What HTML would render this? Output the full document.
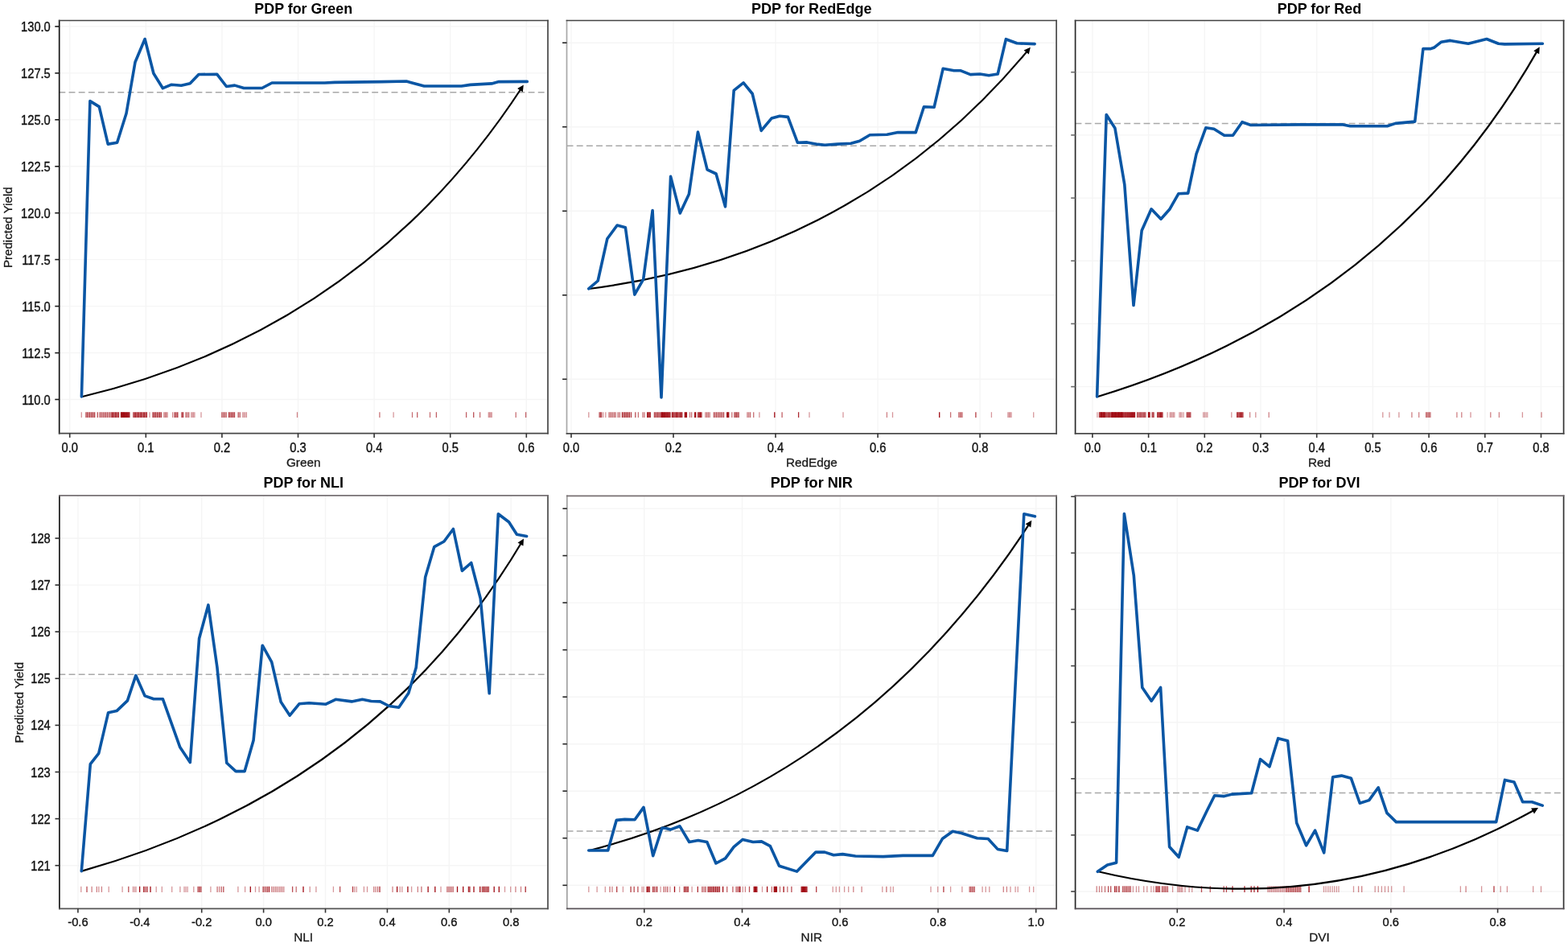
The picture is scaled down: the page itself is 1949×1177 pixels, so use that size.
<!DOCTYPE html>
<html><head><meta charset="utf-8"><title>PDP plots</title><style>
html,body{margin:0;padding:0;background:#fff;}
svg{display:block;}
.grid{stroke:#f5f5f5;stroke-width:1.4;}
.dash{stroke:#a8a8a8;stroke-width:1.5;stroke-dasharray:7.9 4.25;}
.frame{fill:none;stroke:#333;stroke-width:1.7;}
.tick{stroke:#333;stroke-width:1.6;}
.pdp{fill:none;stroke:#0a56a4;stroke-width:3.6;stroke-linejoin:round;stroke-linecap:round;}
.tl{font-family:"Liberation Sans", Arial, Helvetica, sans-serif;font-size:14.7px;fill:#111;stroke:#111;stroke-width:0.35px;}
.title{font-family:"Liberation Sans", Arial, Helvetica, sans-serif;font-size:17.7px;font-weight:bold;fill:#000;}
.xl{font-family:"Liberation Sans", Arial, Helvetica, sans-serif;font-size:15.3px;fill:#1a1a1a;stroke:#1a1a1a;stroke-width:0.3px;}
.yl{font-family:"Liberation Sans", Arial, Helvetica, sans-serif;font-size:15.1px;fill:#1a1a1a;stroke:#1a1a1a;stroke-width:0.3px;}
</style></head>
<body><svg width="1949" height="1177" viewBox="0 0 1949 1177"><rect width="1949" height="1177" fill="#fff"/><g><g><line x1="86.7" y1="25.4" x2="86.7" y2="538.3" class="grid"/><line x1="181.3" y1="25.4" x2="181.3" y2="538.3" class="grid"/><line x1="275.9" y1="25.4" x2="275.9" y2="538.3" class="grid"/><line x1="370.5" y1="25.4" x2="370.5" y2="538.3" class="grid"/><line x1="465.1" y1="25.4" x2="465.1" y2="538.3" class="grid"/><line x1="559.7" y1="25.4" x2="559.7" y2="538.3" class="grid"/><line x1="654.3" y1="25.4" x2="654.3" y2="538.3" class="grid"/><line x1="73.4" y1="496.5" x2="681.0" y2="496.5" class="grid"/><line x1="73.4" y1="438.6" x2="681.0" y2="438.6" class="grid"/><line x1="73.4" y1="380.6" x2="681.0" y2="380.6" class="grid"/><line x1="73.4" y1="322.6" x2="681.0" y2="322.6" class="grid"/><line x1="73.4" y1="264.7" x2="681.0" y2="264.7" class="grid"/><line x1="73.4" y1="206.8" x2="681.0" y2="206.8" class="grid"/><line x1="73.4" y1="148.8" x2="681.0" y2="148.8" class="grid"/><line x1="73.4" y1="90.9" x2="681.0" y2="90.9" class="grid"/><line x1="73.4" y1="32.9" x2="681.0" y2="32.9" class="grid"/><line x1="73.4" y1="114.8" x2="681.0" y2="114.8" class="dash"/><line x1="101.3" y1="512.2" x2="101.3" y2="519.0" stroke="#a00a12" stroke-opacity="0.43" stroke-width="1.3"/><line x1="106.9" y1="512.2" x2="106.9" y2="519.0" stroke="#a00a12" stroke-opacity="0.72" stroke-width="1.3"/><line x1="108.4" y1="512.2" x2="108.4" y2="519.0" stroke="#a00a12" stroke-opacity="0.72" stroke-width="1.3"/><line x1="110.0" y1="512.2" x2="110.0" y2="519.0" stroke="#a00a12" stroke-opacity="0.72" stroke-width="1.3"/><line x1="111.5" y1="512.2" x2="111.5" y2="519.0" stroke="#a00a12" stroke-opacity="0.72" stroke-width="1.3"/><line x1="113.1" y1="512.2" x2="113.1" y2="519.0" stroke="#a00a12" stroke-opacity="0.72" stroke-width="1.3"/><line x1="114.6" y1="512.2" x2="114.6" y2="519.0" stroke="#a00a12" stroke-opacity="0.72" stroke-width="1.3"/><line x1="116.2" y1="512.2" x2="116.2" y2="519.0" stroke="#a00a12" stroke-opacity="0.72" stroke-width="1.3"/><line x1="117.7" y1="512.2" x2="117.7" y2="519.0" stroke="#a00a12" stroke-opacity="0.72" stroke-width="1.3"/><line x1="121.3" y1="512.2" x2="121.3" y2="519.0" stroke="#a00a12" stroke-opacity="0.72" stroke-width="1.3"/><line x1="123.9" y1="512.2" x2="123.9" y2="519.0" stroke="#a00a12" stroke-opacity="0.65" stroke-width="1.3"/><line x1="125.5" y1="512.2" x2="125.5" y2="519.0" stroke="#a00a12" stroke-opacity="0.65" stroke-width="1.3"/><line x1="127.1" y1="512.2" x2="127.1" y2="519.0" stroke="#a00a12" stroke-opacity="0.65" stroke-width="1.3"/><line x1="128.7" y1="512.2" x2="128.7" y2="519.0" stroke="#a00a12" stroke-opacity="0.65" stroke-width="1.3"/><line x1="130.3" y1="512.2" x2="130.3" y2="519.0" stroke="#a00a12" stroke-opacity="0.65" stroke-width="1.3"/><line x1="131.8" y1="512.2" x2="131.8" y2="519.0" stroke="#a00a12" stroke-opacity="0.65" stroke-width="1.3"/><line x1="133.4" y1="512.2" x2="133.4" y2="519.0" stroke="#a00a12" stroke-opacity="0.65" stroke-width="1.3"/><line x1="135.0" y1="512.2" x2="135.0" y2="519.0" stroke="#a00a12" stroke-opacity="0.65" stroke-width="1.3"/><line x1="136.6" y1="512.2" x2="136.6" y2="519.0" stroke="#a00a12" stroke-opacity="0.65" stroke-width="1.3"/><line x1="138.2" y1="512.2" x2="138.2" y2="519.0" stroke="#a00a12" stroke-opacity="0.65" stroke-width="1.3"/><line x1="139.3" y1="512.2" x2="139.3" y2="519.0" stroke="#a00a12" stroke-opacity="0.87" stroke-width="1.3"/><line x1="140.7" y1="512.2" x2="140.7" y2="519.0" stroke="#a00a12" stroke-opacity="0.87" stroke-width="1.3"/><line x1="142.0" y1="512.2" x2="142.0" y2="519.0" stroke="#a00a12" stroke-opacity="0.87" stroke-width="1.3"/><line x1="143.4" y1="512.2" x2="143.4" y2="519.0" stroke="#a00a12" stroke-opacity="0.87" stroke-width="1.3"/><line x1="144.8" y1="512.2" x2="144.8" y2="519.0" stroke="#a00a12" stroke-opacity="0.87" stroke-width="1.3"/><line x1="146.1" y1="512.2" x2="146.1" y2="519.0" stroke="#a00a12" stroke-opacity="0.87" stroke-width="1.3"/><line x1="147.5" y1="512.2" x2="147.5" y2="519.0" stroke="#a00a12" stroke-opacity="0.87" stroke-width="1.3"/><line x1="150.5" y1="512.2" x2="150.5" y2="519.0" stroke="#a00a12" stroke-opacity="1.00" stroke-width="1.3"/><line x1="151.5" y1="512.2" x2="151.5" y2="519.0" stroke="#a00a12" stroke-opacity="1.00" stroke-width="1.3"/><line x1="152.6" y1="512.2" x2="152.6" y2="519.0" stroke="#a00a12" stroke-opacity="1.00" stroke-width="1.3"/><line x1="153.6" y1="512.2" x2="153.6" y2="519.0" stroke="#a00a12" stroke-opacity="1.00" stroke-width="1.3"/><line x1="154.6" y1="512.2" x2="154.6" y2="519.0" stroke="#a00a12" stroke-opacity="1.00" stroke-width="1.3"/><line x1="155.7" y1="512.2" x2="155.7" y2="519.0" stroke="#a00a12" stroke-opacity="1.00" stroke-width="1.3"/><line x1="156.7" y1="512.2" x2="156.7" y2="519.0" stroke="#a00a12" stroke-opacity="1.00" stroke-width="1.3"/><line x1="157.7" y1="512.2" x2="157.7" y2="519.0" stroke="#a00a12" stroke-opacity="1.00" stroke-width="1.3"/><line x1="158.7" y1="512.2" x2="158.7" y2="519.0" stroke="#a00a12" stroke-opacity="1.00" stroke-width="1.3"/><line x1="159.8" y1="512.2" x2="159.8" y2="519.0" stroke="#a00a12" stroke-opacity="1.00" stroke-width="1.3"/><line x1="160.8" y1="512.2" x2="160.8" y2="519.0" stroke="#a00a12" stroke-opacity="1.00" stroke-width="1.3"/><line x1="165.9" y1="512.2" x2="165.9" y2="519.0" stroke="#a00a12" stroke-opacity="0.87" stroke-width="1.3"/><line x1="167.3" y1="512.2" x2="167.3" y2="519.0" stroke="#a00a12" stroke-opacity="0.87" stroke-width="1.3"/><line x1="168.7" y1="512.2" x2="168.7" y2="519.0" stroke="#a00a12" stroke-opacity="0.87" stroke-width="1.3"/><line x1="170.0" y1="512.2" x2="170.0" y2="519.0" stroke="#a00a12" stroke-opacity="0.87" stroke-width="1.3"/><line x1="171.4" y1="512.2" x2="171.4" y2="519.0" stroke="#a00a12" stroke-opacity="0.87" stroke-width="1.3"/><line x1="172.8" y1="512.2" x2="172.8" y2="519.0" stroke="#a00a12" stroke-opacity="0.87" stroke-width="1.3"/><line x1="174.2" y1="512.2" x2="174.2" y2="519.0" stroke="#a00a12" stroke-opacity="0.87" stroke-width="1.3"/><line x1="175.5" y1="512.2" x2="175.5" y2="519.0" stroke="#a00a12" stroke-opacity="0.87" stroke-width="1.3"/><line x1="176.9" y1="512.2" x2="176.9" y2="519.0" stroke="#a00a12" stroke-opacity="0.87" stroke-width="1.3"/><line x1="178.3" y1="512.2" x2="178.3" y2="519.0" stroke="#a00a12" stroke-opacity="0.87" stroke-width="1.3"/><line x1="179.7" y1="512.2" x2="179.7" y2="519.0" stroke="#a00a12" stroke-opacity="0.87" stroke-width="1.3"/><line x1="181.0" y1="512.2" x2="181.0" y2="519.0" stroke="#a00a12" stroke-opacity="0.87" stroke-width="1.3"/><line x1="182.4" y1="512.2" x2="182.4" y2="519.0" stroke="#a00a12" stroke-opacity="0.87" stroke-width="1.3"/><line x1="186.0" y1="512.2" x2="186.0" y2="519.0" stroke="#a00a12" stroke-opacity="0.43" stroke-width="1.3"/><line x1="190.0" y1="512.2" x2="190.0" y2="519.0" stroke="#a00a12" stroke-opacity="0.87" stroke-width="1.3"/><line x1="191.7" y1="512.2" x2="191.7" y2="519.0" stroke="#a00a12" stroke-opacity="0.87" stroke-width="1.3"/><line x1="193.4" y1="512.2" x2="193.4" y2="519.0" stroke="#a00a12" stroke-opacity="0.87" stroke-width="1.3"/><line x1="195.2" y1="512.2" x2="195.2" y2="519.0" stroke="#a00a12" stroke-opacity="0.87" stroke-width="1.3"/><line x1="196.9" y1="512.2" x2="196.9" y2="519.0" stroke="#a00a12" stroke-opacity="0.87" stroke-width="1.3"/><line x1="198.6" y1="512.2" x2="198.6" y2="519.0" stroke="#a00a12" stroke-opacity="0.87" stroke-width="1.3"/><line x1="200.3" y1="512.2" x2="200.3" y2="519.0" stroke="#a00a12" stroke-opacity="0.87" stroke-width="1.3"/><line x1="203.9" y1="512.2" x2="203.9" y2="519.0" stroke="#a00a12" stroke-opacity="0.51" stroke-width="1.3"/><line x1="205.3" y1="512.2" x2="205.3" y2="519.0" stroke="#a00a12" stroke-opacity="0.51" stroke-width="1.3"/><line x1="206.6" y1="512.2" x2="206.6" y2="519.0" stroke="#a00a12" stroke-opacity="0.51" stroke-width="1.3"/><line x1="208.0" y1="512.2" x2="208.0" y2="519.0" stroke="#a00a12" stroke-opacity="0.51" stroke-width="1.3"/><line x1="214.7" y1="512.2" x2="214.7" y2="519.0" stroke="#a00a12" stroke-opacity="0.51" stroke-width="1.3"/><line x1="217.2" y1="512.2" x2="217.2" y2="519.0" stroke="#a00a12" stroke-opacity="0.87" stroke-width="1.3"/><line x1="219.0" y1="512.2" x2="219.0" y2="519.0" stroke="#a00a12" stroke-opacity="0.87" stroke-width="1.3"/><line x1="220.8" y1="512.2" x2="220.8" y2="519.0" stroke="#a00a12" stroke-opacity="0.87" stroke-width="1.3"/><line x1="226.0" y1="512.2" x2="226.0" y2="519.0" stroke="#a00a12" stroke-opacity="0.87" stroke-width="1.3"/><line x1="227.5" y1="512.2" x2="227.5" y2="519.0" stroke="#a00a12" stroke-opacity="0.87" stroke-width="1.3"/><line x1="231.0" y1="512.2" x2="231.0" y2="519.0" stroke="#a00a12" stroke-opacity="0.65" stroke-width="1.3"/><line x1="232.8" y1="512.2" x2="232.8" y2="519.0" stroke="#a00a12" stroke-opacity="0.65" stroke-width="1.3"/><line x1="234.7" y1="512.2" x2="234.7" y2="519.0" stroke="#a00a12" stroke-opacity="0.65" stroke-width="1.3"/><line x1="237.8" y1="512.2" x2="237.8" y2="519.0" stroke="#a00a12" stroke-opacity="0.42" stroke-width="1.3"/><line x1="239.2" y1="512.2" x2="239.2" y2="519.0" stroke="#a00a12" stroke-opacity="0.42" stroke-width="1.3"/><line x1="240.5" y1="512.2" x2="240.5" y2="519.0" stroke="#a00a12" stroke-opacity="0.42" stroke-width="1.3"/><line x1="241.9" y1="512.2" x2="241.9" y2="519.0" stroke="#a00a12" stroke-opacity="0.42" stroke-width="1.3"/><line x1="250.0" y1="512.2" x2="250.0" y2="519.0" stroke="#a00a12" stroke-opacity="0.42" stroke-width="1.3"/><line x1="275.7" y1="512.2" x2="275.7" y2="519.0" stroke="#a00a12" stroke-opacity="0.58" stroke-width="1.3"/><line x1="277.1" y1="512.2" x2="277.1" y2="519.0" stroke="#a00a12" stroke-opacity="0.58" stroke-width="1.3"/><line x1="278.5" y1="512.2" x2="278.5" y2="519.0" stroke="#a00a12" stroke-opacity="0.58" stroke-width="1.3"/><line x1="279.9" y1="512.2" x2="279.9" y2="519.0" stroke="#a00a12" stroke-opacity="0.58" stroke-width="1.3"/><line x1="281.3" y1="512.2" x2="281.3" y2="519.0" stroke="#a00a12" stroke-opacity="0.58" stroke-width="1.3"/><line x1="284.4" y1="512.2" x2="284.4" y2="519.0" stroke="#a00a12" stroke-opacity="0.72" stroke-width="1.3"/><line x1="285.8" y1="512.2" x2="285.8" y2="519.0" stroke="#a00a12" stroke-opacity="0.72" stroke-width="1.3"/><line x1="287.2" y1="512.2" x2="287.2" y2="519.0" stroke="#a00a12" stroke-opacity="0.72" stroke-width="1.3"/><line x1="288.7" y1="512.2" x2="288.7" y2="519.0" stroke="#a00a12" stroke-opacity="0.72" stroke-width="1.3"/><line x1="290.1" y1="512.2" x2="290.1" y2="519.0" stroke="#a00a12" stroke-opacity="0.72" stroke-width="1.3"/><line x1="291.5" y1="512.2" x2="291.5" y2="519.0" stroke="#a00a12" stroke-opacity="0.72" stroke-width="1.3"/><line x1="296.2" y1="512.2" x2="296.2" y2="519.0" stroke="#a00a12" stroke-opacity="0.72" stroke-width="1.3"/><line x1="298.2" y1="512.2" x2="298.2" y2="519.0" stroke="#a00a12" stroke-opacity="0.72" stroke-width="1.3"/><line x1="301.8" y1="512.2" x2="301.8" y2="519.0" stroke="#a00a12" stroke-opacity="0.42" stroke-width="1.3"/><line x1="303.3" y1="512.2" x2="303.3" y2="519.0" stroke="#a00a12" stroke-opacity="0.42" stroke-width="1.3"/><line x1="304.9" y1="512.2" x2="304.9" y2="519.0" stroke="#a00a12" stroke-opacity="0.42" stroke-width="1.3"/><line x1="306.4" y1="512.2" x2="306.4" y2="519.0" stroke="#a00a12" stroke-opacity="0.42" stroke-width="1.3"/><line x1="369.5" y1="512.2" x2="369.5" y2="519.0" stroke="#a00a12" stroke-opacity="0.51" stroke-width="1.3"/><line x1="471.9" y1="512.2" x2="471.9" y2="519.0" stroke="#a00a12" stroke-opacity="0.58" stroke-width="1.3"/><line x1="489.1" y1="512.2" x2="489.1" y2="519.0" stroke="#a00a12" stroke-opacity="0.42" stroke-width="1.3"/><line x1="512.5" y1="512.2" x2="512.5" y2="519.0" stroke="#a00a12" stroke-opacity="0.58" stroke-width="1.3"/><line x1="518.7" y1="512.2" x2="518.7" y2="519.0" stroke="#a00a12" stroke-opacity="0.65" stroke-width="1.3"/><line x1="534.5" y1="512.2" x2="534.5" y2="519.0" stroke="#a00a12" stroke-opacity="0.58" stroke-width="1.3"/><line x1="542.4" y1="512.2" x2="542.4" y2="519.0" stroke="#a00a12" stroke-opacity="0.65" stroke-width="1.3"/><line x1="579.6" y1="512.2" x2="579.6" y2="519.0" stroke="#a00a12" stroke-opacity="0.65" stroke-width="1.3"/><line x1="588.7" y1="512.2" x2="588.7" y2="519.0" stroke="#a00a12" stroke-opacity="0.72" stroke-width="1.3"/><line x1="596.6" y1="512.2" x2="596.6" y2="519.0" stroke="#a00a12" stroke-opacity="0.58" stroke-width="1.3"/><line x1="607.3" y1="512.2" x2="607.3" y2="519.0" stroke="#a00a12" stroke-opacity="0.43" stroke-width="1.3"/><line x1="608.6" y1="512.2" x2="608.6" y2="519.0" stroke="#a00a12" stroke-opacity="0.43" stroke-width="1.3"/><line x1="609.9" y1="512.2" x2="609.9" y2="519.0" stroke="#a00a12" stroke-opacity="0.43" stroke-width="1.3"/><line x1="611.2" y1="512.2" x2="611.2" y2="519.0" stroke="#a00a12" stroke-opacity="0.43" stroke-width="1.3"/><line x1="641.2" y1="512.2" x2="641.2" y2="519.0" stroke="#a00a12" stroke-opacity="0.58" stroke-width="1.3"/><line x1="653.6" y1="512.2" x2="653.6" y2="519.0" stroke="#a00a12" stroke-opacity="0.65" stroke-width="1.3"/><path d="M102.3,493.0 Q453.3,408.7 649.2,108.0" fill="none" stroke="#000" stroke-width="2.2"/><path d="M650.8,105.5 L649.8,114.4 L643.1,110.0 Z" fill="#000"/><polyline points="101.4,493.0 111.9,125.6 123.3,132.6 134.2,179.1 145.6,177.2 157.0,141.0 168.0,77.2 180.1,48.5 190.9,91.2 202.4,109.7 213.2,105.2 225.3,106.2 236.2,103.7 247.0,92.5 269.8,92.3 281.5,107.5 291.8,106.1 303.1,109.5 325.7,109.5 338.0,103.0 403.7,103.0 416.0,102.4 474.2,101.6 505.1,101.0 527.2,107.0 573.6,107.0 584.6,105.4 611.1,103.9 620.0,101.6 655.3,101.4" class="pdp"/><line x1="73.70" y1="24.65" x2="73.70" y2="539.55" stroke="#151515" stroke-width="1.7"/><line x1="681.00" y1="24.65" x2="681.00" y2="539.55" stroke="#464646" stroke-width="1.7"/><line x1="72.85" y1="25.50" x2="681.85" y2="25.50" stroke="#444" stroke-width="1.7"/><line x1="72.85" y1="538.70" x2="681.85" y2="538.70" stroke="#484848" stroke-width="1.7"/><line x1="86.7" y1="538.7" x2="86.7" y2="543.9" class="tick"/><text transform="translate(86.7,561.8) scale(1,1.15)" class="tl" text-anchor="middle">0.0</text><line x1="181.3" y1="538.7" x2="181.3" y2="543.9" class="tick"/><text transform="translate(181.3,561.8) scale(1,1.15)" class="tl" text-anchor="middle">0.1</text><line x1="275.9" y1="538.7" x2="275.9" y2="543.9" class="tick"/><text transform="translate(275.9,561.8) scale(1,1.15)" class="tl" text-anchor="middle">0.2</text><line x1="370.5" y1="538.7" x2="370.5" y2="543.9" class="tick"/><text transform="translate(370.5,561.8) scale(1,1.15)" class="tl" text-anchor="middle">0.3</text><line x1="465.1" y1="538.7" x2="465.1" y2="543.9" class="tick"/><text transform="translate(465.1,561.8) scale(1,1.15)" class="tl" text-anchor="middle">0.4</text><line x1="559.7" y1="538.7" x2="559.7" y2="543.9" class="tick"/><text transform="translate(559.7,561.8) scale(1,1.15)" class="tl" text-anchor="middle">0.5</text><line x1="654.3" y1="538.7" x2="654.3" y2="543.9" class="tick"/><text transform="translate(654.3,561.8) scale(1,1.15)" class="tl" text-anchor="middle">0.6</text><line x1="68.3" y1="496.5" x2="73.7" y2="496.5" class="tick" style="stroke:#1a1a1a"/><text transform="translate(62.8,502.5) scale(1,1.1)" class="tl" text-anchor="end">110.0</text><line x1="68.3" y1="438.6" x2="73.7" y2="438.6" class="tick" style="stroke:#1a1a1a"/><text transform="translate(62.8,444.6) scale(1,1.1)" class="tl" text-anchor="end">112.5</text><line x1="68.3" y1="380.6" x2="73.7" y2="380.6" class="tick" style="stroke:#1a1a1a"/><text transform="translate(62.8,386.6) scale(1,1.1)" class="tl" text-anchor="end">115.0</text><line x1="68.3" y1="322.6" x2="73.7" y2="322.6" class="tick" style="stroke:#1a1a1a"/><text transform="translate(62.8,328.6) scale(1,1.1)" class="tl" text-anchor="end">117.5</text><line x1="68.3" y1="264.7" x2="73.7" y2="264.7" class="tick" style="stroke:#1a1a1a"/><text transform="translate(62.8,270.7) scale(1,1.1)" class="tl" text-anchor="end">120.0</text><line x1="68.3" y1="206.8" x2="73.7" y2="206.8" class="tick" style="stroke:#1a1a1a"/><text transform="translate(62.8,212.8) scale(1,1.1)" class="tl" text-anchor="end">122.5</text><line x1="68.3" y1="148.8" x2="73.7" y2="148.8" class="tick" style="stroke:#1a1a1a"/><text transform="translate(62.8,154.8) scale(1,1.1)" class="tl" text-anchor="end">125.0</text><line x1="68.3" y1="90.9" x2="73.7" y2="90.9" class="tick" style="stroke:#1a1a1a"/><text transform="translate(62.8,96.9) scale(1,1.1)" class="tl" text-anchor="end">127.5</text><line x1="68.3" y1="32.9" x2="73.7" y2="32.9" class="tick" style="stroke:#1a1a1a"/><text transform="translate(62.8,38.9) scale(1,1.1)" class="tl" text-anchor="end">130.0</text><text x="377.2" y="16.6" class="title" text-anchor="middle" textLength="121.7" lengthAdjust="spacingAndGlyphs">PDP for Green</text><text x="377.2" y="580.4" class="xl" text-anchor="middle">Green</text><text transform="translate(15.3,282.7) rotate(-90)" class="yl" text-anchor="middle">Predicted Yield</text></g><g><line x1="710.0" y1="25.4" x2="710.0" y2="538.3" class="grid"/><line x1="837.0" y1="25.4" x2="837.0" y2="538.3" class="grid"/><line x1="964.0" y1="25.4" x2="964.0" y2="538.3" class="grid"/><line x1="1091.1" y1="25.4" x2="1091.1" y2="538.3" class="grid"/><line x1="1218.1" y1="25.4" x2="1218.1" y2="538.3" class="grid"/><line x1="704.6" y1="53.2" x2="1313.0" y2="53.2" class="grid"/><line x1="704.6" y1="157.7" x2="1313.0" y2="157.7" class="grid"/><line x1="704.6" y1="262.3" x2="1313.0" y2="262.3" class="grid"/><line x1="704.6" y1="366.8" x2="1313.0" y2="366.8" class="grid"/><line x1="704.6" y1="471.3" x2="1313.0" y2="471.3" class="grid"/><line x1="704.6" y1="181.3" x2="1313.0" y2="181.3" class="dash"/><line x1="731.8" y1="512.2" x2="731.8" y2="519.0" stroke="#a00a12" stroke-opacity="0.43" stroke-width="1.3"/><line x1="745.1" y1="512.2" x2="745.1" y2="519.0" stroke="#a00a12" stroke-opacity="0.72" stroke-width="1.3"/><line x1="746.4" y1="512.2" x2="746.4" y2="519.0" stroke="#a00a12" stroke-opacity="0.72" stroke-width="1.3"/><line x1="747.7" y1="512.2" x2="747.7" y2="519.0" stroke="#a00a12" stroke-opacity="0.72" stroke-width="1.3"/><line x1="749.8" y1="512.2" x2="749.8" y2="519.0" stroke="#a00a12" stroke-opacity="0.42" stroke-width="1.3"/><line x1="752.8" y1="512.2" x2="752.8" y2="519.0" stroke="#a00a12" stroke-opacity="0.43" stroke-width="1.3"/><line x1="757.0" y1="512.2" x2="757.0" y2="519.0" stroke="#a00a12" stroke-opacity="0.58" stroke-width="1.3"/><line x1="758.6" y1="512.2" x2="758.6" y2="519.0" stroke="#a00a12" stroke-opacity="0.58" stroke-width="1.3"/><line x1="760.3" y1="512.2" x2="760.3" y2="519.0" stroke="#a00a12" stroke-opacity="0.58" stroke-width="1.3"/><line x1="761.9" y1="512.2" x2="761.9" y2="519.0" stroke="#a00a12" stroke-opacity="0.58" stroke-width="1.3"/><line x1="763.6" y1="512.2" x2="763.6" y2="519.0" stroke="#a00a12" stroke-opacity="0.58" stroke-width="1.3"/><line x1="765.2" y1="512.2" x2="765.2" y2="519.0" stroke="#a00a12" stroke-opacity="0.58" stroke-width="1.3"/><line x1="768.2" y1="512.2" x2="768.2" y2="519.0" stroke="#a00a12" stroke-opacity="0.65" stroke-width="1.3"/><line x1="770.3" y1="512.2" x2="770.3" y2="519.0" stroke="#a00a12" stroke-opacity="0.65" stroke-width="1.3"/><line x1="773.4" y1="512.2" x2="773.4" y2="519.0" stroke="#a00a12" stroke-opacity="0.80" stroke-width="1.3"/><line x1="774.9" y1="512.2" x2="774.9" y2="519.0" stroke="#a00a12" stroke-opacity="0.80" stroke-width="1.3"/><line x1="776.5" y1="512.2" x2="776.5" y2="519.0" stroke="#a00a12" stroke-opacity="0.80" stroke-width="1.3"/><line x1="778.0" y1="512.2" x2="778.0" y2="519.0" stroke="#a00a12" stroke-opacity="0.80" stroke-width="1.3"/><line x1="779.5" y1="512.2" x2="779.5" y2="519.0" stroke="#a00a12" stroke-opacity="0.80" stroke-width="1.3"/><line x1="781.1" y1="512.2" x2="781.1" y2="519.0" stroke="#a00a12" stroke-opacity="0.80" stroke-width="1.3"/><line x1="782.6" y1="512.2" x2="782.6" y2="519.0" stroke="#a00a12" stroke-opacity="0.80" stroke-width="1.3"/><line x1="784.6" y1="512.2" x2="784.6" y2="519.0" stroke="#a00a12" stroke-opacity="0.72" stroke-width="1.3"/><line x1="789.8" y1="512.2" x2="789.8" y2="519.0" stroke="#a00a12" stroke-opacity="0.72" stroke-width="1.3"/><line x1="793.4" y1="512.2" x2="793.4" y2="519.0" stroke="#a00a12" stroke-opacity="0.58" stroke-width="1.3"/><line x1="799.0" y1="512.2" x2="799.0" y2="519.0" stroke="#a00a12" stroke-opacity="0.58" stroke-width="1.3"/><line x1="801.0" y1="512.2" x2="801.0" y2="519.0" stroke="#a00a12" stroke-opacity="0.58" stroke-width="1.3"/><line x1="804.7" y1="512.2" x2="804.7" y2="519.0" stroke="#a00a12" stroke-opacity="1.00" stroke-width="1.3"/><line x1="805.9" y1="512.2" x2="805.9" y2="519.0" stroke="#a00a12" stroke-opacity="1.00" stroke-width="1.3"/><line x1="807.0" y1="512.2" x2="807.0" y2="519.0" stroke="#a00a12" stroke-opacity="1.00" stroke-width="1.3"/><line x1="808.2" y1="512.2" x2="808.2" y2="519.0" stroke="#a00a12" stroke-opacity="1.00" stroke-width="1.3"/><line x1="813.4" y1="512.2" x2="813.4" y2="519.0" stroke="#a00a12" stroke-opacity="0.72" stroke-width="1.3"/><line x1="814.8" y1="512.2" x2="814.8" y2="519.0" stroke="#a00a12" stroke-opacity="0.72" stroke-width="1.3"/><line x1="816.1" y1="512.2" x2="816.1" y2="519.0" stroke="#a00a12" stroke-opacity="0.72" stroke-width="1.3"/><line x1="817.5" y1="512.2" x2="817.5" y2="519.0" stroke="#a00a12" stroke-opacity="0.72" stroke-width="1.3"/><line x1="818.9" y1="512.2" x2="818.9" y2="519.0" stroke="#a00a12" stroke-opacity="0.72" stroke-width="1.3"/><line x1="820.2" y1="512.2" x2="820.2" y2="519.0" stroke="#a00a12" stroke-opacity="0.72" stroke-width="1.3"/><line x1="821.6" y1="512.2" x2="821.6" y2="519.0" stroke="#a00a12" stroke-opacity="0.72" stroke-width="1.3"/><line x1="822.6" y1="512.2" x2="822.6" y2="519.0" stroke="#a00a12" stroke-opacity="1.00" stroke-width="1.3"/><line x1="823.6" y1="512.2" x2="823.6" y2="519.0" stroke="#a00a12" stroke-opacity="1.00" stroke-width="1.3"/><line x1="824.7" y1="512.2" x2="824.7" y2="519.0" stroke="#a00a12" stroke-opacity="1.00" stroke-width="1.3"/><line x1="825.7" y1="512.2" x2="825.7" y2="519.0" stroke="#a00a12" stroke-opacity="1.00" stroke-width="1.3"/><line x1="826.7" y1="512.2" x2="826.7" y2="519.0" stroke="#a00a12" stroke-opacity="1.00" stroke-width="1.3"/><line x1="827.8" y1="512.2" x2="827.8" y2="519.0" stroke="#a00a12" stroke-opacity="1.00" stroke-width="1.3"/><line x1="828.8" y1="512.2" x2="828.8" y2="519.0" stroke="#a00a12" stroke-opacity="1.00" stroke-width="1.3"/><line x1="829.8" y1="512.2" x2="829.8" y2="519.0" stroke="#a00a12" stroke-opacity="1.00" stroke-width="1.3"/><line x1="830.8" y1="512.2" x2="830.8" y2="519.0" stroke="#a00a12" stroke-opacity="1.00" stroke-width="1.3"/><line x1="831.9" y1="512.2" x2="831.9" y2="519.0" stroke="#a00a12" stroke-opacity="1.00" stroke-width="1.3"/><line x1="832.9" y1="512.2" x2="832.9" y2="519.0" stroke="#a00a12" stroke-opacity="1.00" stroke-width="1.3"/><line x1="835.4" y1="512.2" x2="835.4" y2="519.0" stroke="#a00a12" stroke-opacity="0.87" stroke-width="1.3"/><line x1="836.6" y1="512.2" x2="836.6" y2="519.0" stroke="#a00a12" stroke-opacity="0.87" stroke-width="1.3"/><line x1="837.9" y1="512.2" x2="837.9" y2="519.0" stroke="#a00a12" stroke-opacity="0.87" stroke-width="1.3"/><line x1="839.1" y1="512.2" x2="839.1" y2="519.0" stroke="#a00a12" stroke-opacity="0.87" stroke-width="1.3"/><line x1="840.4" y1="512.2" x2="840.4" y2="519.0" stroke="#a00a12" stroke-opacity="0.87" stroke-width="1.3"/><line x1="841.6" y1="512.2" x2="841.6" y2="519.0" stroke="#a00a12" stroke-opacity="0.87" stroke-width="1.3"/><line x1="842.8" y1="512.2" x2="842.8" y2="519.0" stroke="#a00a12" stroke-opacity="0.87" stroke-width="1.3"/><line x1="844.1" y1="512.2" x2="844.1" y2="519.0" stroke="#a00a12" stroke-opacity="0.87" stroke-width="1.3"/><line x1="845.3" y1="512.2" x2="845.3" y2="519.0" stroke="#a00a12" stroke-opacity="0.87" stroke-width="1.3"/><line x1="846.6" y1="512.2" x2="846.6" y2="519.0" stroke="#a00a12" stroke-opacity="0.87" stroke-width="1.3"/><line x1="847.8" y1="512.2" x2="847.8" y2="519.0" stroke="#a00a12" stroke-opacity="0.87" stroke-width="1.3"/><line x1="851.3" y1="512.2" x2="851.3" y2="519.0" stroke="#a00a12" stroke-opacity="1.00" stroke-width="1.3"/><line x1="852.3" y1="512.2" x2="852.3" y2="519.0" stroke="#a00a12" stroke-opacity="1.00" stroke-width="1.3"/><line x1="853.4" y1="512.2" x2="853.4" y2="519.0" stroke="#a00a12" stroke-opacity="1.00" stroke-width="1.3"/><line x1="857.5" y1="512.2" x2="857.5" y2="519.0" stroke="#a00a12" stroke-opacity="0.58" stroke-width="1.3"/><line x1="859.6" y1="512.2" x2="859.6" y2="519.0" stroke="#a00a12" stroke-opacity="0.58" stroke-width="1.3"/><line x1="863.7" y1="512.2" x2="863.7" y2="519.0" stroke="#a00a12" stroke-opacity="1.00" stroke-width="1.3"/><line x1="864.7" y1="512.2" x2="864.7" y2="519.0" stroke="#a00a12" stroke-opacity="1.00" stroke-width="1.3"/><line x1="867.8" y1="512.2" x2="867.8" y2="519.0" stroke="#a00a12" stroke-opacity="1.00" stroke-width="1.3"/><line x1="869.2" y1="512.2" x2="869.2" y2="519.0" stroke="#a00a12" stroke-opacity="1.00" stroke-width="1.3"/><line x1="870.5" y1="512.2" x2="870.5" y2="519.0" stroke="#a00a12" stroke-opacity="1.00" stroke-width="1.3"/><line x1="871.9" y1="512.2" x2="871.9" y2="519.0" stroke="#a00a12" stroke-opacity="1.00" stroke-width="1.3"/><line x1="877.0" y1="512.2" x2="877.0" y2="519.0" stroke="#a00a12" stroke-opacity="0.58" stroke-width="1.3"/><line x1="878.7" y1="512.2" x2="878.7" y2="519.0" stroke="#a00a12" stroke-opacity="0.58" stroke-width="1.3"/><line x1="880.4" y1="512.2" x2="880.4" y2="519.0" stroke="#a00a12" stroke-opacity="0.58" stroke-width="1.3"/><line x1="882.1" y1="512.2" x2="882.1" y2="519.0" stroke="#a00a12" stroke-opacity="0.58" stroke-width="1.3"/><line x1="887.3" y1="512.2" x2="887.3" y2="519.0" stroke="#a00a12" stroke-opacity="0.65" stroke-width="1.3"/><line x1="888.8" y1="512.2" x2="888.8" y2="519.0" stroke="#a00a12" stroke-opacity="0.65" stroke-width="1.3"/><line x1="890.4" y1="512.2" x2="890.4" y2="519.0" stroke="#a00a12" stroke-opacity="0.65" stroke-width="1.3"/><line x1="891.9" y1="512.2" x2="891.9" y2="519.0" stroke="#a00a12" stroke-opacity="0.65" stroke-width="1.3"/><line x1="893.5" y1="512.2" x2="893.5" y2="519.0" stroke="#a00a12" stroke-opacity="0.65" stroke-width="1.3"/><line x1="895.0" y1="512.2" x2="895.0" y2="519.0" stroke="#a00a12" stroke-opacity="0.65" stroke-width="1.3"/><line x1="896.5" y1="512.2" x2="896.5" y2="519.0" stroke="#a00a12" stroke-opacity="0.65" stroke-width="1.3"/><line x1="898.1" y1="512.2" x2="898.1" y2="519.0" stroke="#a00a12" stroke-opacity="0.65" stroke-width="1.3"/><line x1="899.6" y1="512.2" x2="899.6" y2="519.0" stroke="#a00a12" stroke-opacity="0.65" stroke-width="1.3"/><line x1="903.7" y1="512.2" x2="903.7" y2="519.0" stroke="#a00a12" stroke-opacity="1.00" stroke-width="1.3"/><line x1="904.7" y1="512.2" x2="904.7" y2="519.0" stroke="#a00a12" stroke-opacity="1.00" stroke-width="1.3"/><line x1="905.7" y1="512.2" x2="905.7" y2="519.0" stroke="#a00a12" stroke-opacity="1.00" stroke-width="1.3"/><line x1="909.8" y1="512.2" x2="909.8" y2="519.0" stroke="#a00a12" stroke-opacity="0.58" stroke-width="1.3"/><line x1="912.9" y1="512.2" x2="912.9" y2="519.0" stroke="#a00a12" stroke-opacity="0.72" stroke-width="1.3"/><line x1="914.2" y1="512.2" x2="914.2" y2="519.0" stroke="#a00a12" stroke-opacity="0.72" stroke-width="1.3"/><line x1="915.5" y1="512.2" x2="915.5" y2="519.0" stroke="#a00a12" stroke-opacity="0.72" stroke-width="1.3"/><line x1="916.9" y1="512.2" x2="916.9" y2="519.0" stroke="#a00a12" stroke-opacity="0.72" stroke-width="1.3"/><line x1="918.2" y1="512.2" x2="918.2" y2="519.0" stroke="#a00a12" stroke-opacity="0.72" stroke-width="1.3"/><line x1="929.0" y1="512.2" x2="929.0" y2="519.0" stroke="#a00a12" stroke-opacity="0.58" stroke-width="1.3"/><line x1="930.8" y1="512.2" x2="930.8" y2="519.0" stroke="#a00a12" stroke-opacity="0.58" stroke-width="1.3"/><line x1="932.6" y1="512.2" x2="932.6" y2="519.0" stroke="#a00a12" stroke-opacity="0.58" stroke-width="1.3"/><line x1="936.7" y1="512.2" x2="936.7" y2="519.0" stroke="#a00a12" stroke-opacity="0.58" stroke-width="1.3"/><line x1="943.9" y1="512.2" x2="943.9" y2="519.0" stroke="#a00a12" stroke-opacity="0.43" stroke-width="1.3"/><line x1="962.8" y1="512.2" x2="962.8" y2="519.0" stroke="#a00a12" stroke-opacity="1.00" stroke-width="1.3"/><line x1="972.1" y1="512.2" x2="972.1" y2="519.0" stroke="#a00a12" stroke-opacity="0.65" stroke-width="1.3"/><line x1="992.6" y1="512.2" x2="992.6" y2="519.0" stroke="#a00a12" stroke-opacity="0.87" stroke-width="1.3"/><line x1="1006.0" y1="512.2" x2="1006.0" y2="519.0" stroke="#a00a12" stroke-opacity="0.42" stroke-width="1.3"/><line x1="1048.0" y1="512.2" x2="1048.0" y2="519.0" stroke="#a00a12" stroke-opacity="0.42" stroke-width="1.3"/><line x1="1102.4" y1="512.2" x2="1102.4" y2="519.0" stroke="#a00a12" stroke-opacity="0.51" stroke-width="1.3"/><line x1="1109.5" y1="512.2" x2="1109.5" y2="519.0" stroke="#a00a12" stroke-opacity="0.43" stroke-width="1.3"/><line x1="1167.7" y1="512.2" x2="1167.7" y2="519.0" stroke="#a00a12" stroke-opacity="1.00" stroke-width="1.3"/><line x1="1181.6" y1="512.2" x2="1181.6" y2="519.0" stroke="#a00a12" stroke-opacity="0.58" stroke-width="1.3"/><line x1="1191.8" y1="512.2" x2="1191.8" y2="519.0" stroke="#a00a12" stroke-opacity="0.58" stroke-width="1.3"/><line x1="1193.2" y1="512.2" x2="1193.2" y2="519.0" stroke="#a00a12" stroke-opacity="0.58" stroke-width="1.3"/><line x1="1194.6" y1="512.2" x2="1194.6" y2="519.0" stroke="#a00a12" stroke-opacity="0.58" stroke-width="1.3"/><line x1="1196.0" y1="512.2" x2="1196.0" y2="519.0" stroke="#a00a12" stroke-opacity="0.58" stroke-width="1.3"/><line x1="1212.9" y1="512.2" x2="1212.9" y2="519.0" stroke="#a00a12" stroke-opacity="0.80" stroke-width="1.3"/><line x1="1232.4" y1="512.2" x2="1232.4" y2="519.0" stroke="#a00a12" stroke-opacity="0.42" stroke-width="1.3"/><line x1="1252.9" y1="512.2" x2="1252.9" y2="519.0" stroke="#a00a12" stroke-opacity="0.43" stroke-width="1.3"/><line x1="1254.3" y1="512.2" x2="1254.3" y2="519.0" stroke="#a00a12" stroke-opacity="0.43" stroke-width="1.3"/><line x1="1255.6" y1="512.2" x2="1255.6" y2="519.0" stroke="#a00a12" stroke-opacity="0.43" stroke-width="1.3"/><line x1="1257.0" y1="512.2" x2="1257.0" y2="519.0" stroke="#a00a12" stroke-opacity="0.43" stroke-width="1.3"/><line x1="1284.7" y1="512.2" x2="1284.7" y2="519.0" stroke="#a00a12" stroke-opacity="0.42" stroke-width="1.3"/><path d="M732.2,359.0 Q1068.3,315.3 1278.9,61.1" fill="none" stroke="#000" stroke-width="2.2"/><path d="M1280.8,58.8 L1278.8,67.5 L1272.6,62.4 Z" fill="#000"/><polyline points="731.7,358.8 743.2,349.0 754.8,296.8 767.1,280.0 777.4,282.7 788.8,366.1 799.7,347.1 811.1,261.5 822.0,493.9 833.6,219.4 845.3,265.0 856.4,241.3 867.5,164.1 879.1,210.9 890.1,216.0 901.5,256.8 912.2,112.3 924.1,102.9 935.2,116.5 946.2,162.4 959.0,147.1 969.2,144.3 979.4,145.4 991.3,177.2 1003.2,176.9 1016.8,179.4 1025.3,180.3 1040.6,179.1 1057.6,178.2 1068.5,175.3 1081.2,167.7 1102.5,167.3 1116.1,164.6 1138.2,164.6 1148.4,132.8 1161.1,133.3 1172.2,85.2 1185.8,87.8 1194.3,87.8 1206.2,92.6 1218.1,92.0 1229.1,93.7 1240.2,92.0 1250.4,48.7 1264.0,53.8 1286.1,54.6" class="pdp"/><line x1="704.50" y1="24.65" x2="704.50" y2="539.65" stroke="#a8a8a8" stroke-width="1.7"/><line x1="1313.10" y1="24.65" x2="1313.10" y2="539.65" stroke="#4a4a4a" stroke-width="1.7"/><line x1="703.65" y1="25.50" x2="1313.95" y2="25.50" stroke="#444" stroke-width="1.7"/><line x1="703.65" y1="538.80" x2="1313.95" y2="538.80" stroke="#4a4a4a" stroke-width="1.7"/><line x1="710.0" y1="538.8" x2="710.0" y2="544.0" class="tick"/><text transform="translate(710.0,561.8) scale(1,1.15)" class="tl" text-anchor="middle">0.0</text><line x1="837.0" y1="538.8" x2="837.0" y2="544.0" class="tick"/><text transform="translate(837.0,561.8) scale(1,1.15)" class="tl" text-anchor="middle">0.2</text><line x1="964.0" y1="538.8" x2="964.0" y2="544.0" class="tick"/><text transform="translate(964.0,561.8) scale(1,1.15)" class="tl" text-anchor="middle">0.4</text><line x1="1091.1" y1="538.8" x2="1091.1" y2="544.0" class="tick"/><text transform="translate(1091.1,561.8) scale(1,1.15)" class="tl" text-anchor="middle">0.6</text><line x1="1218.1" y1="538.8" x2="1218.1" y2="544.0" class="tick"/><text transform="translate(1218.1,561.8) scale(1,1.15)" class="tl" text-anchor="middle">0.8</text><line x1="699.1" y1="53.2" x2="704.5" y2="53.2" class="tick" style="stroke:#222"/><line x1="699.1" y1="157.7" x2="704.5" y2="157.7" class="tick" style="stroke:#222"/><line x1="699.1" y1="262.3" x2="704.5" y2="262.3" class="tick" style="stroke:#222"/><line x1="699.1" y1="366.8" x2="704.5" y2="366.8" class="tick" style="stroke:#222"/><line x1="699.1" y1="471.3" x2="704.5" y2="471.3" class="tick" style="stroke:#222"/><text x="1008.8" y="16.6" class="title" text-anchor="middle" textLength="149.7" lengthAdjust="spacingAndGlyphs">PDP for RedEdge</text><text x="1008.8" y="580.4" class="xl" text-anchor="middle">RedEdge</text></g><g><line x1="1357.9" y1="25.4" x2="1357.9" y2="538.3" class="grid"/><line x1="1427.6" y1="25.4" x2="1427.6" y2="538.3" class="grid"/><line x1="1497.3" y1="25.4" x2="1497.3" y2="538.3" class="grid"/><line x1="1567.0" y1="25.4" x2="1567.0" y2="538.3" class="grid"/><line x1="1636.7" y1="25.4" x2="1636.7" y2="538.3" class="grid"/><line x1="1706.4" y1="25.4" x2="1706.4" y2="538.3" class="grid"/><line x1="1776.1" y1="25.4" x2="1776.1" y2="538.3" class="grid"/><line x1="1845.8" y1="25.4" x2="1845.8" y2="538.3" class="grid"/><line x1="1915.5" y1="25.4" x2="1915.5" y2="538.3" class="grid"/><line x1="1336.5" y1="89.7" x2="1943.4" y2="89.7" class="grid"/><line x1="1336.5" y1="167.9" x2="1943.4" y2="167.9" class="grid"/><line x1="1336.5" y1="246.1" x2="1943.4" y2="246.1" class="grid"/><line x1="1336.5" y1="324.2" x2="1943.4" y2="324.2" class="grid"/><line x1="1336.5" y1="402.4" x2="1943.4" y2="402.4" class="grid"/><line x1="1336.5" y1="480.6" x2="1943.4" y2="480.6" class="grid"/><line x1="1336.5" y1="153.4" x2="1943.4" y2="153.4" class="dash"/><line x1="1363.9" y1="512.2" x2="1363.9" y2="519.0" stroke="#a00a12" stroke-opacity="0.42" stroke-width="1.3"/><line x1="1366.4" y1="512.2" x2="1366.4" y2="519.0" stroke="#a00a12" stroke-opacity="0.72" stroke-width="1.3"/><line x1="1367.2" y1="512.2" x2="1367.2" y2="519.0" stroke="#a00a12" stroke-opacity="0.72" stroke-width="1.3"/><line x1="1368.0" y1="512.2" x2="1368.0" y2="519.0" stroke="#a00a12" stroke-opacity="0.72" stroke-width="1.3"/><line x1="1368.5" y1="512.2" x2="1368.5" y2="519.0" stroke="#a00a12" stroke-opacity="1.00" stroke-width="1.3"/><line x1="1369.3" y1="512.2" x2="1369.3" y2="519.0" stroke="#a00a12" stroke-opacity="1.00" stroke-width="1.3"/><line x1="1370.1" y1="512.2" x2="1370.1" y2="519.0" stroke="#a00a12" stroke-opacity="1.00" stroke-width="1.3"/><line x1="1371.0" y1="512.2" x2="1371.0" y2="519.0" stroke="#a00a12" stroke-opacity="1.00" stroke-width="1.3"/><line x1="1371.8" y1="512.2" x2="1371.8" y2="519.0" stroke="#a00a12" stroke-opacity="1.00" stroke-width="1.3"/><line x1="1372.6" y1="512.2" x2="1372.6" y2="519.0" stroke="#a00a12" stroke-opacity="1.00" stroke-width="1.3"/><line x1="1373.5" y1="512.2" x2="1373.5" y2="519.0" stroke="#a00a12" stroke-opacity="0.87" stroke-width="1.3"/><line x1="1374.8" y1="512.2" x2="1374.8" y2="519.0" stroke="#a00a12" stroke-opacity="0.87" stroke-width="1.3"/><line x1="1376.0" y1="512.2" x2="1376.0" y2="519.0" stroke="#a00a12" stroke-opacity="0.87" stroke-width="1.3"/><line x1="1377.2" y1="512.2" x2="1377.2" y2="519.0" stroke="#a00a12" stroke-opacity="0.87" stroke-width="1.3"/><line x1="1378.5" y1="512.2" x2="1378.5" y2="519.0" stroke="#a00a12" stroke-opacity="0.87" stroke-width="1.3"/><line x1="1379.8" y1="512.2" x2="1379.8" y2="519.0" stroke="#a00a12" stroke-opacity="0.87" stroke-width="1.3"/><line x1="1381.0" y1="512.2" x2="1381.0" y2="519.0" stroke="#a00a12" stroke-opacity="0.87" stroke-width="1.3"/><line x1="1381.8" y1="512.2" x2="1381.8" y2="519.0" stroke="#a00a12" stroke-opacity="1.00" stroke-width="1.3"/><line x1="1382.6" y1="512.2" x2="1382.6" y2="519.0" stroke="#a00a12" stroke-opacity="1.00" stroke-width="1.3"/><line x1="1383.4" y1="512.2" x2="1383.4" y2="519.0" stroke="#a00a12" stroke-opacity="1.00" stroke-width="1.3"/><line x1="1384.2" y1="512.2" x2="1384.2" y2="519.0" stroke="#a00a12" stroke-opacity="1.00" stroke-width="1.3"/><line x1="1385.0" y1="512.2" x2="1385.0" y2="519.0" stroke="#a00a12" stroke-opacity="1.00" stroke-width="1.3"/><line x1="1385.7" y1="512.2" x2="1385.7" y2="519.0" stroke="#a00a12" stroke-opacity="1.00" stroke-width="1.3"/><line x1="1386.5" y1="512.2" x2="1386.5" y2="519.0" stroke="#a00a12" stroke-opacity="1.00" stroke-width="1.3"/><line x1="1387.3" y1="512.2" x2="1387.3" y2="519.0" stroke="#a00a12" stroke-opacity="1.00" stroke-width="1.3"/><line x1="1388.1" y1="512.2" x2="1388.1" y2="519.0" stroke="#a00a12" stroke-opacity="1.00" stroke-width="1.3"/><line x1="1388.9" y1="512.2" x2="1388.9" y2="519.0" stroke="#a00a12" stroke-opacity="1.00" stroke-width="1.3"/><line x1="1389.7" y1="512.2" x2="1389.7" y2="519.0" stroke="#a00a12" stroke-opacity="1.00" stroke-width="1.3"/><line x1="1390.5" y1="512.2" x2="1390.5" y2="519.0" stroke="#a00a12" stroke-opacity="1.00" stroke-width="1.3"/><line x1="1391.3" y1="512.2" x2="1391.3" y2="519.0" stroke="#a00a12" stroke-opacity="1.00" stroke-width="1.3"/><line x1="1392.0" y1="512.2" x2="1392.0" y2="519.0" stroke="#a00a12" stroke-opacity="1.00" stroke-width="1.3"/><line x1="1392.8" y1="512.2" x2="1392.8" y2="519.0" stroke="#a00a12" stroke-opacity="1.00" stroke-width="1.3"/><line x1="1393.6" y1="512.2" x2="1393.6" y2="519.0" stroke="#a00a12" stroke-opacity="1.00" stroke-width="1.3"/><line x1="1394.4" y1="512.2" x2="1394.4" y2="519.0" stroke="#a00a12" stroke-opacity="1.00" stroke-width="1.3"/><line x1="1395.2" y1="512.2" x2="1395.2" y2="519.0" stroke="#a00a12" stroke-opacity="1.00" stroke-width="1.3"/><line x1="1396.0" y1="512.2" x2="1396.0" y2="519.0" stroke="#a00a12" stroke-opacity="0.94" stroke-width="1.3"/><line x1="1397.0" y1="512.2" x2="1397.0" y2="519.0" stroke="#a00a12" stroke-opacity="0.94" stroke-width="1.3"/><line x1="1398.1" y1="512.2" x2="1398.1" y2="519.0" stroke="#a00a12" stroke-opacity="0.94" stroke-width="1.3"/><line x1="1399.1" y1="512.2" x2="1399.1" y2="519.0" stroke="#a00a12" stroke-opacity="0.94" stroke-width="1.3"/><line x1="1400.1" y1="512.2" x2="1400.1" y2="519.0" stroke="#a00a12" stroke-opacity="0.94" stroke-width="1.3"/><line x1="1401.2" y1="512.2" x2="1401.2" y2="519.0" stroke="#a00a12" stroke-opacity="0.94" stroke-width="1.3"/><line x1="1402.2" y1="512.2" x2="1402.2" y2="519.0" stroke="#a00a12" stroke-opacity="0.94" stroke-width="1.3"/><line x1="1403.2" y1="512.2" x2="1403.2" y2="519.0" stroke="#a00a12" stroke-opacity="0.94" stroke-width="1.3"/><line x1="1404.3" y1="512.2" x2="1404.3" y2="519.0" stroke="#a00a12" stroke-opacity="0.94" stroke-width="1.3"/><line x1="1405.3" y1="512.2" x2="1405.3" y2="519.0" stroke="#a00a12" stroke-opacity="0.94" stroke-width="1.3"/><line x1="1406.4" y1="512.2" x2="1406.4" y2="519.0" stroke="#a00a12" stroke-opacity="0.94" stroke-width="1.3"/><line x1="1407.4" y1="512.2" x2="1407.4" y2="519.0" stroke="#a00a12" stroke-opacity="0.94" stroke-width="1.3"/><line x1="1408.4" y1="512.2" x2="1408.4" y2="519.0" stroke="#a00a12" stroke-opacity="0.94" stroke-width="1.3"/><line x1="1409.5" y1="512.2" x2="1409.5" y2="519.0" stroke="#a00a12" stroke-opacity="0.94" stroke-width="1.3"/><line x1="1410.5" y1="512.2" x2="1410.5" y2="519.0" stroke="#a00a12" stroke-opacity="0.94" stroke-width="1.3"/><line x1="1413.6" y1="512.2" x2="1413.6" y2="519.0" stroke="#a00a12" stroke-opacity="0.72" stroke-width="1.3"/><line x1="1414.9" y1="512.2" x2="1414.9" y2="519.0" stroke="#a00a12" stroke-opacity="0.72" stroke-width="1.3"/><line x1="1416.2" y1="512.2" x2="1416.2" y2="519.0" stroke="#a00a12" stroke-opacity="0.72" stroke-width="1.3"/><line x1="1417.5" y1="512.2" x2="1417.5" y2="519.0" stroke="#a00a12" stroke-opacity="0.72" stroke-width="1.3"/><line x1="1418.8" y1="512.2" x2="1418.8" y2="519.0" stroke="#a00a12" stroke-opacity="0.72" stroke-width="1.3"/><line x1="1420.0" y1="512.2" x2="1420.0" y2="519.0" stroke="#a00a12" stroke-opacity="0.72" stroke-width="1.3"/><line x1="1421.3" y1="512.2" x2="1421.3" y2="519.0" stroke="#a00a12" stroke-opacity="0.72" stroke-width="1.3"/><line x1="1422.6" y1="512.2" x2="1422.6" y2="519.0" stroke="#a00a12" stroke-opacity="0.72" stroke-width="1.3"/><line x1="1423.9" y1="512.2" x2="1423.9" y2="519.0" stroke="#a00a12" stroke-opacity="0.72" stroke-width="1.3"/><line x1="1427.5" y1="512.2" x2="1427.5" y2="519.0" stroke="#a00a12" stroke-opacity="1.00" stroke-width="1.3"/><line x1="1428.2" y1="512.2" x2="1428.2" y2="519.0" stroke="#a00a12" stroke-opacity="1.00" stroke-width="1.3"/><line x1="1429.0" y1="512.2" x2="1429.0" y2="519.0" stroke="#a00a12" stroke-opacity="1.00" stroke-width="1.3"/><line x1="1432.1" y1="512.2" x2="1432.1" y2="519.0" stroke="#a00a12" stroke-opacity="0.72" stroke-width="1.3"/><line x1="1433.1" y1="512.2" x2="1433.1" y2="519.0" stroke="#a00a12" stroke-opacity="0.72" stroke-width="1.3"/><line x1="1434.1" y1="512.2" x2="1434.1" y2="519.0" stroke="#a00a12" stroke-opacity="0.72" stroke-width="1.3"/><line x1="1438.8" y1="512.2" x2="1438.8" y2="519.0" stroke="#a00a12" stroke-opacity="0.94" stroke-width="1.3"/><line x1="1440.0" y1="512.2" x2="1440.0" y2="519.0" stroke="#a00a12" stroke-opacity="0.94" stroke-width="1.3"/><line x1="1441.2" y1="512.2" x2="1441.2" y2="519.0" stroke="#a00a12" stroke-opacity="0.94" stroke-width="1.3"/><line x1="1442.5" y1="512.2" x2="1442.5" y2="519.0" stroke="#a00a12" stroke-opacity="0.94" stroke-width="1.3"/><line x1="1443.7" y1="512.2" x2="1443.7" y2="519.0" stroke="#a00a12" stroke-opacity="0.94" stroke-width="1.3"/><line x1="1444.9" y1="512.2" x2="1444.9" y2="519.0" stroke="#a00a12" stroke-opacity="0.94" stroke-width="1.3"/><line x1="1451.1" y1="512.2" x2="1451.1" y2="519.0" stroke="#a00a12" stroke-opacity="0.42" stroke-width="1.3"/><line x1="1454.2" y1="512.2" x2="1454.2" y2="519.0" stroke="#a00a12" stroke-opacity="0.42" stroke-width="1.3"/><line x1="1455.6" y1="512.2" x2="1455.6" y2="519.0" stroke="#a00a12" stroke-opacity="0.42" stroke-width="1.3"/><line x1="1457.0" y1="512.2" x2="1457.0" y2="519.0" stroke="#a00a12" stroke-opacity="0.42" stroke-width="1.3"/><line x1="1458.4" y1="512.2" x2="1458.4" y2="519.0" stroke="#a00a12" stroke-opacity="0.42" stroke-width="1.3"/><line x1="1459.8" y1="512.2" x2="1459.8" y2="519.0" stroke="#a00a12" stroke-opacity="0.42" stroke-width="1.3"/><line x1="1466.0" y1="512.2" x2="1466.0" y2="519.0" stroke="#a00a12" stroke-opacity="0.42" stroke-width="1.3"/><line x1="1467.5" y1="512.2" x2="1467.5" y2="519.0" stroke="#a00a12" stroke-opacity="0.42" stroke-width="1.3"/><line x1="1469.0" y1="512.2" x2="1469.0" y2="519.0" stroke="#a00a12" stroke-opacity="0.42" stroke-width="1.3"/><line x1="1471.1" y1="512.2" x2="1471.1" y2="519.0" stroke="#a00a12" stroke-opacity="0.43" stroke-width="1.3"/><line x1="1475.2" y1="512.2" x2="1475.2" y2="519.0" stroke="#a00a12" stroke-opacity="0.72" stroke-width="1.3"/><line x1="1476.3" y1="512.2" x2="1476.3" y2="519.0" stroke="#a00a12" stroke-opacity="0.72" stroke-width="1.3"/><line x1="1477.5" y1="512.2" x2="1477.5" y2="519.0" stroke="#a00a12" stroke-opacity="0.72" stroke-width="1.3"/><line x1="1478.7" y1="512.2" x2="1478.7" y2="519.0" stroke="#a00a12" stroke-opacity="0.72" stroke-width="1.3"/><line x1="1479.8" y1="512.2" x2="1479.8" y2="519.0" stroke="#a00a12" stroke-opacity="0.72" stroke-width="1.3"/><line x1="1495.7" y1="512.2" x2="1495.7" y2="519.0" stroke="#a00a12" stroke-opacity="0.42" stroke-width="1.3"/><line x1="1497.4" y1="512.2" x2="1497.4" y2="519.0" stroke="#a00a12" stroke-opacity="0.42" stroke-width="1.3"/><line x1="1499.1" y1="512.2" x2="1499.1" y2="519.0" stroke="#a00a12" stroke-opacity="0.42" stroke-width="1.3"/><line x1="1500.8" y1="512.2" x2="1500.8" y2="519.0" stroke="#a00a12" stroke-opacity="0.42" stroke-width="1.3"/><line x1="1530.8" y1="512.2" x2="1530.8" y2="519.0" stroke="#a00a12" stroke-opacity="0.42" stroke-width="1.3"/><line x1="1537.7" y1="512.2" x2="1537.7" y2="519.0" stroke="#a00a12" stroke-opacity="0.87" stroke-width="1.3"/><line x1="1538.9" y1="512.2" x2="1538.9" y2="519.0" stroke="#a00a12" stroke-opacity="0.87" stroke-width="1.3"/><line x1="1540.1" y1="512.2" x2="1540.1" y2="519.0" stroke="#a00a12" stroke-opacity="0.87" stroke-width="1.3"/><line x1="1541.3" y1="512.2" x2="1541.3" y2="519.0" stroke="#a00a12" stroke-opacity="0.87" stroke-width="1.3"/><line x1="1542.5" y1="512.2" x2="1542.5" y2="519.0" stroke="#a00a12" stroke-opacity="0.87" stroke-width="1.3"/><line x1="1543.7" y1="512.2" x2="1543.7" y2="519.0" stroke="#a00a12" stroke-opacity="0.87" stroke-width="1.3"/><line x1="1544.9" y1="512.2" x2="1544.9" y2="519.0" stroke="#a00a12" stroke-opacity="0.87" stroke-width="1.3"/><line x1="1553.6" y1="512.2" x2="1553.6" y2="519.0" stroke="#a00a12" stroke-opacity="0.51" stroke-width="1.3"/><line x1="1560.8" y1="512.2" x2="1560.8" y2="519.0" stroke="#a00a12" stroke-opacity="0.43" stroke-width="1.3"/><line x1="1577.2" y1="512.2" x2="1577.2" y2="519.0" stroke="#a00a12" stroke-opacity="0.51" stroke-width="1.3"/><line x1="1718.8" y1="512.2" x2="1718.8" y2="519.0" stroke="#a00a12" stroke-opacity="0.43" stroke-width="1.3"/><line x1="1727.0" y1="512.2" x2="1727.0" y2="519.0" stroke="#a00a12" stroke-opacity="0.42" stroke-width="1.3"/><line x1="1738.9" y1="512.2" x2="1738.9" y2="519.0" stroke="#a00a12" stroke-opacity="0.43" stroke-width="1.3"/><line x1="1754.9" y1="512.2" x2="1754.9" y2="519.0" stroke="#a00a12" stroke-opacity="0.51" stroke-width="1.3"/><line x1="1763.7" y1="512.2" x2="1763.7" y2="519.0" stroke="#a00a12" stroke-opacity="0.51" stroke-width="1.3"/><line x1="1772.6" y1="512.2" x2="1772.6" y2="519.0" stroke="#a00a12" stroke-opacity="0.58" stroke-width="1.3"/><line x1="1773.9" y1="512.2" x2="1773.9" y2="519.0" stroke="#a00a12" stroke-opacity="0.58" stroke-width="1.3"/><line x1="1775.2" y1="512.2" x2="1775.2" y2="519.0" stroke="#a00a12" stroke-opacity="0.58" stroke-width="1.3"/><line x1="1776.6" y1="512.2" x2="1776.6" y2="519.0" stroke="#a00a12" stroke-opacity="0.58" stroke-width="1.3"/><line x1="1777.9" y1="512.2" x2="1777.9" y2="519.0" stroke="#a00a12" stroke-opacity="0.58" stroke-width="1.3"/><line x1="1810.9" y1="512.2" x2="1810.9" y2="519.0" stroke="#a00a12" stroke-opacity="0.51" stroke-width="1.3"/><line x1="1816.8" y1="512.2" x2="1816.8" y2="519.0" stroke="#a00a12" stroke-opacity="0.51" stroke-width="1.3"/><line x1="1828.0" y1="512.2" x2="1828.0" y2="519.0" stroke="#a00a12" stroke-opacity="0.43" stroke-width="1.3"/><line x1="1852.8" y1="512.2" x2="1852.8" y2="519.0" stroke="#a00a12" stroke-opacity="0.51" stroke-width="1.3"/><line x1="1863.4" y1="512.2" x2="1863.4" y2="519.0" stroke="#a00a12" stroke-opacity="0.51" stroke-width="1.3"/><line x1="1892.4" y1="512.2" x2="1892.4" y2="519.0" stroke="#a00a12" stroke-opacity="0.43" stroke-width="1.3"/><line x1="1916.0" y1="512.2" x2="1916.0" y2="519.0" stroke="#a00a12" stroke-opacity="0.51" stroke-width="1.3"/><path d="M1364.4,493.0 Q1729.6,382.2 1912.2,60.9" fill="none" stroke="#000" stroke-width="2.2"/><path d="M1913.7,58.3 L1913.2,67.2 L1906.3,63.3 Z" fill="#000"/><polyline points="1363.6,493.0 1375.2,142.6 1385.9,159.2 1397.8,229.4 1409.0,379.5 1419.2,286.4 1431.1,259.8 1443.0,272.2 1453.7,260.3 1464.8,240.8 1476.7,240.1 1487.0,191.3 1498.8,158.8 1508.9,160.3 1521.7,168.3 1532.5,168.3 1544.0,151.7 1554.8,155.5 1614.7,154.9 1669.5,154.9 1678.4,156.8 1724.3,156.8 1734.5,153.4 1758.7,151.1 1768.9,60.6 1778.4,60.6 1782.3,59.3 1791.2,52.3 1802.7,50.4 1825.0,54.2 1847.9,48.5 1862.6,54.2 1870.2,54.9 1917.4,54.2" class="pdp"/><line x1="1336.60" y1="24.65" x2="1336.60" y2="539.65" stroke="#2a2a2a" stroke-width="1.7"/><line x1="1943.60" y1="24.65" x2="1943.60" y2="539.65" stroke="#333" stroke-width="1.7"/><line x1="1335.75" y1="25.50" x2="1944.45" y2="25.50" stroke="#414141" stroke-width="1.7"/><line x1="1335.75" y1="538.80" x2="1944.45" y2="538.80" stroke="#4a4a4a" stroke-width="1.7"/><line x1="1357.9" y1="538.8" x2="1357.9" y2="544.0" class="tick"/><text transform="translate(1357.9,561.8) scale(1,1.15)" class="tl" text-anchor="middle">0.0</text><line x1="1427.6" y1="538.8" x2="1427.6" y2="544.0" class="tick"/><text transform="translate(1427.6,561.8) scale(1,1.15)" class="tl" text-anchor="middle">0.1</text><line x1="1497.3" y1="538.8" x2="1497.3" y2="544.0" class="tick"/><text transform="translate(1497.3,561.8) scale(1,1.15)" class="tl" text-anchor="middle">0.2</text><line x1="1567.0" y1="538.8" x2="1567.0" y2="544.0" class="tick"/><text transform="translate(1567.0,561.8) scale(1,1.15)" class="tl" text-anchor="middle">0.3</text><line x1="1636.7" y1="538.8" x2="1636.7" y2="544.0" class="tick"/><text transform="translate(1636.7,561.8) scale(1,1.15)" class="tl" text-anchor="middle">0.4</text><line x1="1706.4" y1="538.8" x2="1706.4" y2="544.0" class="tick"/><text transform="translate(1706.4,561.8) scale(1,1.15)" class="tl" text-anchor="middle">0.5</text><line x1="1776.1" y1="538.8" x2="1776.1" y2="544.0" class="tick"/><text transform="translate(1776.1,561.8) scale(1,1.15)" class="tl" text-anchor="middle">0.6</text><line x1="1845.8" y1="538.8" x2="1845.8" y2="544.0" class="tick"/><text transform="translate(1845.8,561.8) scale(1,1.15)" class="tl" text-anchor="middle">0.7</text><line x1="1915.5" y1="538.8" x2="1915.5" y2="544.0" class="tick"/><text transform="translate(1915.5,561.8) scale(1,1.15)" class="tl" text-anchor="middle">0.8</text><line x1="1331.2" y1="89.7" x2="1336.6" y2="89.7" class="tick" style="stroke:#6a6a6a"/><line x1="1331.2" y1="167.9" x2="1336.6" y2="167.9" class="tick" style="stroke:#6a6a6a"/><line x1="1331.2" y1="246.1" x2="1336.6" y2="246.1" class="tick" style="stroke:#6a6a6a"/><line x1="1331.2" y1="324.2" x2="1336.6" y2="324.2" class="tick" style="stroke:#6a6a6a"/><line x1="1331.2" y1="402.4" x2="1336.6" y2="402.4" class="tick" style="stroke:#6a6a6a"/><line x1="1331.2" y1="480.6" x2="1336.6" y2="480.6" class="tick" style="stroke:#6a6a6a"/><text x="1640.0" y="16.6" class="title" text-anchor="middle" textLength="104.7" lengthAdjust="spacingAndGlyphs">PDP for Red</text><text x="1640.0" y="580.4" class="xl" text-anchor="middle">Red</text></g><g><line x1="96.9" y1="616.0" x2="96.9" y2="1129.0" class="grid"/><line x1="173.8" y1="616.0" x2="173.8" y2="1129.0" class="grid"/><line x1="250.7" y1="616.0" x2="250.7" y2="1129.0" class="grid"/><line x1="327.6" y1="616.0" x2="327.6" y2="1129.0" class="grid"/><line x1="404.5" y1="616.0" x2="404.5" y2="1129.0" class="grid"/><line x1="481.4" y1="616.0" x2="481.4" y2="1129.0" class="grid"/><line x1="558.3" y1="616.0" x2="558.3" y2="1129.0" class="grid"/><line x1="635.2" y1="616.0" x2="635.2" y2="1129.0" class="grid"/><line x1="73.4" y1="1075.7" x2="681.0" y2="1075.7" class="grid"/><line x1="73.4" y1="1017.6" x2="681.0" y2="1017.6" class="grid"/><line x1="73.4" y1="959.5" x2="681.0" y2="959.5" class="grid"/><line x1="73.4" y1="901.4" x2="681.0" y2="901.4" class="grid"/><line x1="73.4" y1="843.3" x2="681.0" y2="843.3" class="grid"/><line x1="73.4" y1="785.2" x2="681.0" y2="785.2" class="grid"/><line x1="73.4" y1="727.1" x2="681.0" y2="727.1" class="grid"/><line x1="73.4" y1="669.0" x2="681.0" y2="669.0" class="grid"/><line x1="73.4" y1="838.2" x2="681.0" y2="838.2" class="dash"/><line x1="100.8" y1="1101.7" x2="100.8" y2="1108.9" stroke="#a00a12" stroke-opacity="0.42" stroke-width="1.3"/><line x1="108.0" y1="1101.7" x2="108.0" y2="1108.9" stroke="#a00a12" stroke-opacity="0.72" stroke-width="1.3"/><line x1="114.1" y1="1101.7" x2="114.1" y2="1108.9" stroke="#a00a12" stroke-opacity="0.51" stroke-width="1.3"/><line x1="120.3" y1="1101.7" x2="120.3" y2="1108.9" stroke="#a00a12" stroke-opacity="0.51" stroke-width="1.3"/><line x1="122.8" y1="1101.7" x2="122.8" y2="1108.9" stroke="#a00a12" stroke-opacity="0.43" stroke-width="1.3"/><line x1="126.4" y1="1101.7" x2="126.4" y2="1108.9" stroke="#a00a12" stroke-opacity="0.51" stroke-width="1.3"/><line x1="135.2" y1="1101.7" x2="135.2" y2="1108.9" stroke="#a00a12" stroke-opacity="0.42" stroke-width="1.3"/><line x1="152.1" y1="1101.7" x2="152.1" y2="1108.9" stroke="#a00a12" stroke-opacity="0.42" stroke-width="1.3"/><line x1="159.8" y1="1101.7" x2="159.8" y2="1108.9" stroke="#a00a12" stroke-opacity="0.72" stroke-width="1.3"/><line x1="165.4" y1="1101.7" x2="165.4" y2="1108.9" stroke="#a00a12" stroke-opacity="0.42" stroke-width="1.3"/><line x1="167.2" y1="1101.7" x2="167.2" y2="1108.9" stroke="#a00a12" stroke-opacity="0.42" stroke-width="1.3"/><line x1="169.0" y1="1101.7" x2="169.0" y2="1108.9" stroke="#a00a12" stroke-opacity="0.43" stroke-width="1.3"/><line x1="173.6" y1="1101.7" x2="173.6" y2="1108.9" stroke="#a00a12" stroke-opacity="1.00" stroke-width="1.3"/><line x1="178.8" y1="1101.7" x2="178.8" y2="1108.9" stroke="#a00a12" stroke-opacity="1.00" stroke-width="1.3"/><line x1="180.8" y1="1101.7" x2="180.8" y2="1108.9" stroke="#a00a12" stroke-opacity="0.72" stroke-width="1.3"/><line x1="182.9" y1="1101.7" x2="182.9" y2="1108.9" stroke="#a00a12" stroke-opacity="0.87" stroke-width="1.3"/><line x1="187.0" y1="1101.7" x2="187.0" y2="1108.9" stroke="#a00a12" stroke-opacity="1.00" stroke-width="1.3"/><line x1="194.2" y1="1101.7" x2="194.2" y2="1108.9" stroke="#a00a12" stroke-opacity="0.42" stroke-width="1.3"/><line x1="201.3" y1="1101.7" x2="201.3" y2="1108.9" stroke="#a00a12" stroke-opacity="0.42" stroke-width="1.3"/><line x1="213.7" y1="1101.7" x2="213.7" y2="1108.9" stroke="#a00a12" stroke-opacity="0.42" stroke-width="1.3"/><line x1="223.9" y1="1101.7" x2="223.9" y2="1108.9" stroke="#a00a12" stroke-opacity="0.43" stroke-width="1.3"/><line x1="229.0" y1="1101.7" x2="229.0" y2="1108.9" stroke="#a00a12" stroke-opacity="0.42" stroke-width="1.3"/><line x1="231.0" y1="1101.7" x2="231.0" y2="1108.9" stroke="#a00a12" stroke-opacity="0.42" stroke-width="1.3"/><line x1="233.1" y1="1101.7" x2="233.1" y2="1108.9" stroke="#a00a12" stroke-opacity="0.42" stroke-width="1.3"/><line x1="240.8" y1="1101.7" x2="240.8" y2="1108.9" stroke="#a00a12" stroke-opacity="0.42" stroke-width="1.3"/><line x1="246.0" y1="1101.7" x2="246.0" y2="1108.9" stroke="#a00a12" stroke-opacity="0.65" stroke-width="1.3"/><line x1="247.3" y1="1101.7" x2="247.3" y2="1108.9" stroke="#a00a12" stroke-opacity="0.65" stroke-width="1.3"/><line x1="248.7" y1="1101.7" x2="248.7" y2="1108.9" stroke="#a00a12" stroke-opacity="0.65" stroke-width="1.3"/><line x1="250.0" y1="1101.7" x2="250.0" y2="1108.9" stroke="#a00a12" stroke-opacity="0.65" stroke-width="1.3"/><line x1="261.9" y1="1101.7" x2="261.9" y2="1108.9" stroke="#a00a12" stroke-opacity="0.42" stroke-width="1.3"/><line x1="270.1" y1="1101.7" x2="270.1" y2="1108.9" stroke="#a00a12" stroke-opacity="0.58" stroke-width="1.3"/><line x1="272.6" y1="1101.7" x2="272.6" y2="1108.9" stroke="#a00a12" stroke-opacity="0.51" stroke-width="1.3"/><line x1="275.2" y1="1101.7" x2="275.2" y2="1108.9" stroke="#a00a12" stroke-opacity="0.65" stroke-width="1.3"/><line x1="277.8" y1="1101.7" x2="277.8" y2="1108.9" stroke="#a00a12" stroke-opacity="0.72" stroke-width="1.3"/><line x1="295.9" y1="1101.7" x2="295.9" y2="1108.9" stroke="#a00a12" stroke-opacity="0.43" stroke-width="1.3"/><line x1="304.6" y1="1101.7" x2="304.6" y2="1108.9" stroke="#a00a12" stroke-opacity="0.43" stroke-width="1.3"/><line x1="311.3" y1="1101.7" x2="311.3" y2="1108.9" stroke="#a00a12" stroke-opacity="1.00" stroke-width="1.3"/><line x1="317.5" y1="1101.7" x2="317.5" y2="1108.9" stroke="#a00a12" stroke-opacity="0.43" stroke-width="1.3"/><line x1="322.1" y1="1101.7" x2="322.1" y2="1108.9" stroke="#a00a12" stroke-opacity="0.43" stroke-width="1.3"/><line x1="327.2" y1="1101.7" x2="327.2" y2="1108.9" stroke="#a00a12" stroke-opacity="0.87" stroke-width="1.3"/><line x1="329.5" y1="1101.7" x2="329.5" y2="1108.9" stroke="#a00a12" stroke-opacity="0.87" stroke-width="1.3"/><line x1="332.0" y1="1101.7" x2="332.0" y2="1108.9" stroke="#a00a12" stroke-opacity="1.00" stroke-width="1.3"/><line x1="334.4" y1="1101.7" x2="334.4" y2="1108.9" stroke="#a00a12" stroke-opacity="1.00" stroke-width="1.3"/><line x1="337.5" y1="1101.7" x2="337.5" y2="1108.9" stroke="#a00a12" stroke-opacity="0.43" stroke-width="1.3"/><line x1="339.2" y1="1101.7" x2="339.2" y2="1108.9" stroke="#a00a12" stroke-opacity="0.43" stroke-width="1.3"/><line x1="340.9" y1="1101.7" x2="340.9" y2="1108.9" stroke="#a00a12" stroke-opacity="0.43" stroke-width="1.3"/><line x1="342.6" y1="1101.7" x2="342.6" y2="1108.9" stroke="#a00a12" stroke-opacity="0.43" stroke-width="1.3"/><line x1="344.3" y1="1101.7" x2="344.3" y2="1108.9" stroke="#a00a12" stroke-opacity="0.43" stroke-width="1.3"/><line x1="346.1" y1="1101.7" x2="346.1" y2="1108.9" stroke="#a00a12" stroke-opacity="0.43" stroke-width="1.3"/><line x1="347.8" y1="1101.7" x2="347.8" y2="1108.9" stroke="#a00a12" stroke-opacity="0.43" stroke-width="1.3"/><line x1="349.5" y1="1101.7" x2="349.5" y2="1108.9" stroke="#a00a12" stroke-opacity="0.43" stroke-width="1.3"/><line x1="351.2" y1="1101.7" x2="351.2" y2="1108.9" stroke="#a00a12" stroke-opacity="0.43" stroke-width="1.3"/><line x1="352.9" y1="1101.7" x2="352.9" y2="1108.9" stroke="#a00a12" stroke-opacity="0.43" stroke-width="1.3"/><line x1="363.6" y1="1101.7" x2="363.6" y2="1108.9" stroke="#a00a12" stroke-opacity="0.72" stroke-width="1.3"/><line x1="368.2" y1="1101.7" x2="368.2" y2="1108.9" stroke="#a00a12" stroke-opacity="0.58" stroke-width="1.3"/><line x1="377.0" y1="1101.7" x2="377.0" y2="1108.9" stroke="#a00a12" stroke-opacity="1.00" stroke-width="1.3"/><line x1="385.2" y1="1101.7" x2="385.2" y2="1108.9" stroke="#a00a12" stroke-opacity="0.43" stroke-width="1.3"/><line x1="392.9" y1="1101.7" x2="392.9" y2="1108.9" stroke="#a00a12" stroke-opacity="0.43" stroke-width="1.3"/><line x1="414.4" y1="1101.7" x2="414.4" y2="1108.9" stroke="#a00a12" stroke-opacity="0.42" stroke-width="1.3"/><line x1="422.6" y1="1101.7" x2="422.6" y2="1108.9" stroke="#a00a12" stroke-opacity="0.72" stroke-width="1.3"/><line x1="438.5" y1="1101.7" x2="438.5" y2="1108.9" stroke="#a00a12" stroke-opacity="0.80" stroke-width="1.3"/><line x1="440.8" y1="1101.7" x2="440.8" y2="1108.9" stroke="#a00a12" stroke-opacity="0.43" stroke-width="1.3"/><line x1="443.2" y1="1101.7" x2="443.2" y2="1108.9" stroke="#a00a12" stroke-opacity="0.42" stroke-width="1.3"/><line x1="452.4" y1="1101.7" x2="452.4" y2="1108.9" stroke="#a00a12" stroke-opacity="0.43" stroke-width="1.3"/><line x1="456.5" y1="1101.7" x2="456.5" y2="1108.9" stroke="#a00a12" stroke-opacity="0.43" stroke-width="1.3"/><line x1="464.7" y1="1101.7" x2="464.7" y2="1108.9" stroke="#a00a12" stroke-opacity="0.51" stroke-width="1.3"/><line x1="467.0" y1="1101.7" x2="467.0" y2="1108.9" stroke="#a00a12" stroke-opacity="0.51" stroke-width="1.3"/><line x1="469.5" y1="1101.7" x2="469.5" y2="1108.9" stroke="#a00a12" stroke-opacity="0.58" stroke-width="1.3"/><line x1="471.9" y1="1101.7" x2="471.9" y2="1108.9" stroke="#a00a12" stroke-opacity="0.58" stroke-width="1.3"/><line x1="472.1" y1="1101.7" x2="472.1" y2="1108.9" stroke="#a00a12" stroke-opacity="0.43" stroke-width="1.3"/><line x1="488.0" y1="1101.7" x2="488.0" y2="1108.9" stroke="#a00a12" stroke-opacity="0.51" stroke-width="1.3"/><line x1="493.6" y1="1101.7" x2="493.6" y2="1108.9" stroke="#a00a12" stroke-opacity="1.00" stroke-width="1.3"/><line x1="497.2" y1="1101.7" x2="497.2" y2="1108.9" stroke="#a00a12" stroke-opacity="0.42" stroke-width="1.3"/><line x1="499.8" y1="1101.7" x2="499.8" y2="1108.9" stroke="#a00a12" stroke-opacity="0.42" stroke-width="1.3"/><line x1="506.9" y1="1101.7" x2="506.9" y2="1108.9" stroke="#a00a12" stroke-opacity="1.00" stroke-width="1.3"/><line x1="511.6" y1="1101.7" x2="511.6" y2="1108.9" stroke="#a00a12" stroke-opacity="0.42" stroke-width="1.3"/><line x1="519.3" y1="1101.7" x2="519.3" y2="1108.9" stroke="#a00a12" stroke-opacity="0.51" stroke-width="1.3"/><line x1="523.9" y1="1101.7" x2="523.9" y2="1108.9" stroke="#a00a12" stroke-opacity="0.58" stroke-width="1.3"/><line x1="532.1" y1="1101.7" x2="532.1" y2="1108.9" stroke="#a00a12" stroke-opacity="1.00" stroke-width="1.3"/><line x1="540.8" y1="1101.7" x2="540.8" y2="1108.9" stroke="#a00a12" stroke-opacity="1.00" stroke-width="1.3"/><line x1="548.0" y1="1101.7" x2="548.0" y2="1108.9" stroke="#a00a12" stroke-opacity="0.42" stroke-width="1.3"/><line x1="555.7" y1="1101.7" x2="555.7" y2="1108.9" stroke="#a00a12" stroke-opacity="0.51" stroke-width="1.3"/><line x1="557.2" y1="1101.7" x2="557.2" y2="1108.9" stroke="#a00a12" stroke-opacity="0.51" stroke-width="1.3"/><line x1="558.8" y1="1101.7" x2="558.8" y2="1108.9" stroke="#a00a12" stroke-opacity="0.51" stroke-width="1.3"/><line x1="560.3" y1="1101.7" x2="560.3" y2="1108.9" stroke="#a00a12" stroke-opacity="0.51" stroke-width="1.3"/><line x1="561.9" y1="1101.7" x2="561.9" y2="1108.9" stroke="#a00a12" stroke-opacity="0.51" stroke-width="1.3"/><line x1="563.4" y1="1101.7" x2="563.4" y2="1108.9" stroke="#a00a12" stroke-opacity="0.51" stroke-width="1.3"/><line x1="568.5" y1="1101.7" x2="568.5" y2="1108.9" stroke="#a00a12" stroke-opacity="1.00" stroke-width="1.3"/><line x1="575.7" y1="1101.7" x2="575.7" y2="1108.9" stroke="#a00a12" stroke-opacity="1.00" stroke-width="1.3"/><line x1="582.4" y1="1101.7" x2="582.4" y2="1108.9" stroke="#a00a12" stroke-opacity="0.87" stroke-width="1.3"/><line x1="583.9" y1="1101.7" x2="583.9" y2="1108.9" stroke="#a00a12" stroke-opacity="0.87" stroke-width="1.3"/><line x1="589.0" y1="1101.7" x2="589.0" y2="1108.9" stroke="#a00a12" stroke-opacity="1.00" stroke-width="1.3"/><line x1="596.7" y1="1101.7" x2="596.7" y2="1108.9" stroke="#a00a12" stroke-opacity="1.00" stroke-width="1.3"/><line x1="599.3" y1="1101.7" x2="599.3" y2="1108.9" stroke="#a00a12" stroke-opacity="0.65" stroke-width="1.3"/><line x1="600.5" y1="1101.7" x2="600.5" y2="1108.9" stroke="#a00a12" stroke-opacity="0.65" stroke-width="1.3"/><line x1="601.6" y1="1101.7" x2="601.6" y2="1108.9" stroke="#a00a12" stroke-opacity="0.65" stroke-width="1.3"/><line x1="602.8" y1="1101.7" x2="602.8" y2="1108.9" stroke="#a00a12" stroke-opacity="0.65" stroke-width="1.3"/><line x1="604.0" y1="1101.7" x2="604.0" y2="1108.9" stroke="#a00a12" stroke-opacity="0.65" stroke-width="1.3"/><line x1="605.2" y1="1101.7" x2="605.2" y2="1108.9" stroke="#a00a12" stroke-opacity="0.65" stroke-width="1.3"/><line x1="606.3" y1="1101.7" x2="606.3" y2="1108.9" stroke="#a00a12" stroke-opacity="0.65" stroke-width="1.3"/><line x1="607.5" y1="1101.7" x2="607.5" y2="1108.9" stroke="#a00a12" stroke-opacity="0.65" stroke-width="1.3"/><line x1="614.2" y1="1101.7" x2="614.2" y2="1108.9" stroke="#a00a12" stroke-opacity="1.00" stroke-width="1.3"/><line x1="620.3" y1="1101.7" x2="620.3" y2="1108.9" stroke="#a00a12" stroke-opacity="1.00" stroke-width="1.3"/><line x1="627.5" y1="1101.7" x2="627.5" y2="1108.9" stroke="#a00a12" stroke-opacity="0.42" stroke-width="1.3"/><line x1="634.7" y1="1101.7" x2="634.7" y2="1108.9" stroke="#a00a12" stroke-opacity="0.42" stroke-width="1.3"/><line x1="640.9" y1="1101.7" x2="640.9" y2="1108.9" stroke="#a00a12" stroke-opacity="0.51" stroke-width="1.3"/><line x1="647.5" y1="1101.7" x2="647.5" y2="1108.9" stroke="#a00a12" stroke-opacity="0.51" stroke-width="1.3"/><line x1="653.2" y1="1101.7" x2="653.2" y2="1108.9" stroke="#a00a12" stroke-opacity="0.87" stroke-width="1.3"/><path d="M101.8,1082.6 Q467.4,979.5 649.5,672.2" fill="none" stroke="#000" stroke-width="2.2"/><path d="M651.0,669.6 L650.4,678.5 L643.5,674.4 Z" fill="#000"/><polyline points="101.3,1082.6 112.3,949.7 122.7,936.3 134.6,885.7 145.0,883.6 158.4,870.9 168.8,839.6 180.1,864.9 191.1,868.8 202.4,868.8 223.8,928.8 236.3,947.6 247.6,793.5 258.9,751.9 269.9,829.2 281.8,948.2 293.1,958.6 304.1,958.6 315.1,919.9 326.2,802.2 337.7,822.9 349.2,872.6 360.2,889.2 371.9,874.8 384.1,873.7 405.1,875.2 417.2,869.3 437.1,871.9 450.4,869.3 461.4,871.5 472.5,871.9 483.5,877.5 495.7,879.2 507.8,861.5 517.2,829.8 528.7,717.2 539.8,679.6 551.9,673.0 563.4,657.5 574.4,709.4 585.7,699.5 597.2,743.7 608.2,861.8 619.3,638.8 632.5,648.7 642.4,664.2 654.6,666.4" class="pdp"/><line x1="73.90" y1="615.05" x2="73.90" y2="1130.15" stroke="#1a1a1a" stroke-width="1.7"/><line x1="681.00" y1="615.05" x2="681.00" y2="1130.15" stroke="#4a4a4a" stroke-width="1.7"/><line x1="73.05" y1="615.90" x2="681.85" y2="615.90" stroke="#767073" stroke-width="1.7"/><line x1="73.05" y1="1129.30" x2="681.85" y2="1129.30" stroke="#555" stroke-width="1.7"/><line x1="96.9" y1="1129.3" x2="96.9" y2="1134.5" class="tick"/><text transform="translate(96.9,1150.5) scale(1,1.03)" class="tl" text-anchor="middle">-0.6</text><line x1="173.8" y1="1129.3" x2="173.8" y2="1134.5" class="tick"/><text transform="translate(173.8,1150.5) scale(1,1.03)" class="tl" text-anchor="middle">-0.4</text><line x1="250.7" y1="1129.3" x2="250.7" y2="1134.5" class="tick"/><text transform="translate(250.7,1150.5) scale(1,1.03)" class="tl" text-anchor="middle">-0.2</text><line x1="327.6" y1="1129.3" x2="327.6" y2="1134.5" class="tick"/><text transform="translate(327.6,1150.5) scale(1,1.03)" class="tl" text-anchor="middle">0.0</text><line x1="404.5" y1="1129.3" x2="404.5" y2="1134.5" class="tick"/><text transform="translate(404.5,1150.5) scale(1,1.03)" class="tl" text-anchor="middle">0.2</text><line x1="481.4" y1="1129.3" x2="481.4" y2="1134.5" class="tick"/><text transform="translate(481.4,1150.5) scale(1,1.03)" class="tl" text-anchor="middle">0.4</text><line x1="558.3" y1="1129.3" x2="558.3" y2="1134.5" class="tick"/><text transform="translate(558.3,1150.5) scale(1,1.03)" class="tl" text-anchor="middle">0.6</text><line x1="635.2" y1="1129.3" x2="635.2" y2="1134.5" class="tick"/><text transform="translate(635.2,1150.5) scale(1,1.03)" class="tl" text-anchor="middle">0.8</text><line x1="68.5" y1="1075.7" x2="73.9" y2="1075.7" class="tick" style="stroke:#2a2a2a"/><text transform="translate(62.8,1081.7) scale(1,1.1)" class="tl" text-anchor="end">121</text><line x1="68.5" y1="1017.6" x2="73.9" y2="1017.6" class="tick" style="stroke:#2a2a2a"/><text transform="translate(62.8,1023.6) scale(1,1.1)" class="tl" text-anchor="end">122</text><line x1="68.5" y1="959.5" x2="73.9" y2="959.5" class="tick" style="stroke:#2a2a2a"/><text transform="translate(62.8,965.5) scale(1,1.1)" class="tl" text-anchor="end">123</text><line x1="68.5" y1="901.4" x2="73.9" y2="901.4" class="tick" style="stroke:#2a2a2a"/><text transform="translate(62.8,907.4) scale(1,1.1)" class="tl" text-anchor="end">124</text><line x1="68.5" y1="843.3" x2="73.9" y2="843.3" class="tick" style="stroke:#2a2a2a"/><text transform="translate(62.8,849.3) scale(1,1.1)" class="tl" text-anchor="end">125</text><line x1="68.5" y1="785.2" x2="73.9" y2="785.2" class="tick" style="stroke:#2a2a2a"/><text transform="translate(62.8,791.2) scale(1,1.1)" class="tl" text-anchor="end">126</text><line x1="68.5" y1="727.1" x2="73.9" y2="727.1" class="tick" style="stroke:#2a2a2a"/><text transform="translate(62.8,733.1) scale(1,1.1)" class="tl" text-anchor="end">127</text><line x1="68.5" y1="669.0" x2="73.9" y2="669.0" class="tick" style="stroke:#2a2a2a"/><text transform="translate(62.8,675.0) scale(1,1.1)" class="tl" text-anchor="end">128</text><text x="377.2" y="606.4" class="title" text-anchor="middle" textLength="99.4" lengthAdjust="spacingAndGlyphs">PDP for NLI</text><text x="377.2" y="1170.3" class="xl" text-anchor="middle">NLI</text><text transform="translate(28.6,873.2) rotate(-90)" class="yl" text-anchor="middle">Predicted Yield</text></g><g><line x1="800.8" y1="616.0" x2="800.8" y2="1129.0" class="grid"/><line x1="922.5" y1="616.0" x2="922.5" y2="1129.0" class="grid"/><line x1="1044.2" y1="616.0" x2="1044.2" y2="1129.0" class="grid"/><line x1="1166.0" y1="616.0" x2="1166.0" y2="1129.0" class="grid"/><line x1="1287.7" y1="616.0" x2="1287.7" y2="1129.0" class="grid"/><line x1="704.6" y1="632.1" x2="1313.0" y2="632.1" class="grid"/><line x1="704.6" y1="690.6" x2="1313.0" y2="690.6" class="grid"/><line x1="704.6" y1="749.1" x2="1313.0" y2="749.1" class="grid"/><line x1="704.6" y1="807.7" x2="1313.0" y2="807.7" class="grid"/><line x1="704.6" y1="866.2" x2="1313.0" y2="866.2" class="grid"/><line x1="704.6" y1="924.7" x2="1313.0" y2="924.7" class="grid"/><line x1="704.6" y1="983.2" x2="1313.0" y2="983.2" class="grid"/><line x1="704.6" y1="1041.7" x2="1313.0" y2="1041.7" class="grid"/><line x1="704.6" y1="1100.3" x2="1313.0" y2="1100.3" class="grid"/><line x1="704.6" y1="1032.9" x2="1313.0" y2="1032.9" class="dash"/><line x1="731.8" y1="1101.7" x2="731.8" y2="1108.9" stroke="#a00a12" stroke-opacity="0.43" stroke-width="1.3"/><line x1="742.1" y1="1101.7" x2="742.1" y2="1108.9" stroke="#a00a12" stroke-opacity="0.43" stroke-width="1.3"/><line x1="752.3" y1="1101.7" x2="752.3" y2="1108.9" stroke="#a00a12" stroke-opacity="0.42" stroke-width="1.3"/><line x1="758.0" y1="1101.7" x2="758.0" y2="1108.9" stroke="#a00a12" stroke-opacity="0.58" stroke-width="1.3"/><line x1="761.0" y1="1101.7" x2="761.0" y2="1108.9" stroke="#a00a12" stroke-opacity="0.51" stroke-width="1.3"/><line x1="766.7" y1="1101.7" x2="766.7" y2="1108.9" stroke="#a00a12" stroke-opacity="0.80" stroke-width="1.3"/><line x1="774.4" y1="1101.7" x2="774.4" y2="1108.9" stroke="#a00a12" stroke-opacity="0.42" stroke-width="1.3"/><line x1="784.1" y1="1101.7" x2="784.1" y2="1108.9" stroke="#a00a12" stroke-opacity="0.80" stroke-width="1.3"/><line x1="788.2" y1="1101.7" x2="788.2" y2="1108.9" stroke="#a00a12" stroke-opacity="0.72" stroke-width="1.3"/><line x1="792.9" y1="1101.7" x2="792.9" y2="1108.9" stroke="#a00a12" stroke-opacity="0.72" stroke-width="1.3"/><line x1="798.0" y1="1101.7" x2="798.0" y2="1108.9" stroke="#a00a12" stroke-opacity="0.42" stroke-width="1.3"/><line x1="800.0" y1="1101.7" x2="800.0" y2="1108.9" stroke="#a00a12" stroke-opacity="0.42" stroke-width="1.3"/><line x1="804.1" y1="1101.7" x2="804.1" y2="1108.9" stroke="#a00a12" stroke-opacity="1.00" stroke-width="1.3"/><line x1="805.6" y1="1101.7" x2="805.6" y2="1108.9" stroke="#a00a12" stroke-opacity="1.00" stroke-width="1.3"/><line x1="807.2" y1="1101.7" x2="807.2" y2="1108.9" stroke="#a00a12" stroke-opacity="1.00" stroke-width="1.3"/><line x1="811.8" y1="1101.7" x2="811.8" y2="1108.9" stroke="#a00a12" stroke-opacity="1.00" stroke-width="1.3"/><line x1="814.0" y1="1101.7" x2="814.0" y2="1108.9" stroke="#a00a12" stroke-opacity="0.87" stroke-width="1.3"/><line x1="816.5" y1="1101.7" x2="816.5" y2="1108.9" stroke="#a00a12" stroke-opacity="1.00" stroke-width="1.3"/><line x1="821.1" y1="1101.7" x2="821.1" y2="1108.9" stroke="#a00a12" stroke-opacity="0.42" stroke-width="1.3"/><line x1="825.2" y1="1101.7" x2="825.2" y2="1108.9" stroke="#a00a12" stroke-opacity="0.65" stroke-width="1.3"/><line x1="827.5" y1="1101.7" x2="827.5" y2="1108.9" stroke="#a00a12" stroke-opacity="0.58" stroke-width="1.3"/><line x1="829.8" y1="1101.7" x2="829.8" y2="1108.9" stroke="#a00a12" stroke-opacity="0.65" stroke-width="1.3"/><line x1="832.9" y1="1101.7" x2="832.9" y2="1108.9" stroke="#a00a12" stroke-opacity="0.42" stroke-width="1.3"/><line x1="838.5" y1="1101.7" x2="838.5" y2="1108.9" stroke="#a00a12" stroke-opacity="1.00" stroke-width="1.3"/><line x1="844.7" y1="1101.7" x2="844.7" y2="1108.9" stroke="#a00a12" stroke-opacity="0.42" stroke-width="1.3"/><line x1="850.3" y1="1101.7" x2="850.3" y2="1108.9" stroke="#a00a12" stroke-opacity="0.72" stroke-width="1.3"/><line x1="851.6" y1="1101.7" x2="851.6" y2="1108.9" stroke="#a00a12" stroke-opacity="0.72" stroke-width="1.3"/><line x1="852.9" y1="1101.7" x2="852.9" y2="1108.9" stroke="#a00a12" stroke-opacity="0.72" stroke-width="1.3"/><line x1="854.2" y1="1101.7" x2="854.2" y2="1108.9" stroke="#a00a12" stroke-opacity="0.72" stroke-width="1.3"/><line x1="855.5" y1="1101.7" x2="855.5" y2="1108.9" stroke="#a00a12" stroke-opacity="0.72" stroke-width="1.3"/><line x1="860.1" y1="1101.7" x2="860.1" y2="1108.9" stroke="#a00a12" stroke-opacity="0.42" stroke-width="1.3"/><line x1="867.3" y1="1101.7" x2="867.3" y2="1108.9" stroke="#a00a12" stroke-opacity="0.87" stroke-width="1.3"/><line x1="872.9" y1="1101.7" x2="872.9" y2="1108.9" stroke="#a00a12" stroke-opacity="0.72" stroke-width="1.3"/><line x1="875.0" y1="1101.7" x2="875.0" y2="1108.9" stroke="#a00a12" stroke-opacity="0.58" stroke-width="1.3"/><line x1="877.0" y1="1101.7" x2="877.0" y2="1108.9" stroke="#a00a12" stroke-opacity="0.72" stroke-width="1.3"/><line x1="880.1" y1="1101.7" x2="880.1" y2="1108.9" stroke="#a00a12" stroke-opacity="0.87" stroke-width="1.3"/><line x1="881.7" y1="1101.7" x2="881.7" y2="1108.9" stroke="#a00a12" stroke-opacity="0.87" stroke-width="1.3"/><line x1="883.3" y1="1101.7" x2="883.3" y2="1108.9" stroke="#a00a12" stroke-opacity="0.87" stroke-width="1.3"/><line x1="884.9" y1="1101.7" x2="884.9" y2="1108.9" stroke="#a00a12" stroke-opacity="0.87" stroke-width="1.3"/><line x1="886.5" y1="1101.7" x2="886.5" y2="1108.9" stroke="#a00a12" stroke-opacity="0.87" stroke-width="1.3"/><line x1="888.0" y1="1101.7" x2="888.0" y2="1108.9" stroke="#a00a12" stroke-opacity="0.87" stroke-width="1.3"/><line x1="889.6" y1="1101.7" x2="889.6" y2="1108.9" stroke="#a00a12" stroke-opacity="0.87" stroke-width="1.3"/><line x1="891.2" y1="1101.7" x2="891.2" y2="1108.9" stroke="#a00a12" stroke-opacity="0.87" stroke-width="1.3"/><line x1="892.8" y1="1101.7" x2="892.8" y2="1108.9" stroke="#a00a12" stroke-opacity="0.87" stroke-width="1.3"/><line x1="894.4" y1="1101.7" x2="894.4" y2="1108.9" stroke="#a00a12" stroke-opacity="0.87" stroke-width="1.3"/><line x1="898.6" y1="1101.7" x2="898.6" y2="1108.9" stroke="#a00a12" stroke-opacity="1.00" stroke-width="1.3"/><line x1="903.7" y1="1101.7" x2="903.7" y2="1108.9" stroke="#a00a12" stroke-opacity="0.65" stroke-width="1.3"/><line x1="910.9" y1="1101.7" x2="910.9" y2="1108.9" stroke="#a00a12" stroke-opacity="0.65" stroke-width="1.3"/><line x1="915.0" y1="1101.7" x2="915.0" y2="1108.9" stroke="#a00a12" stroke-opacity="0.58" stroke-width="1.3"/><line x1="917.5" y1="1101.7" x2="917.5" y2="1108.9" stroke="#a00a12" stroke-opacity="0.58" stroke-width="1.3"/><line x1="920.0" y1="1101.7" x2="920.0" y2="1108.9" stroke="#a00a12" stroke-opacity="0.72" stroke-width="1.3"/><line x1="916.2" y1="1101.7" x2="916.2" y2="1108.9" stroke="#a00a12" stroke-opacity="0.42" stroke-width="1.3"/><line x1="919.2" y1="1101.7" x2="919.2" y2="1108.9" stroke="#a00a12" stroke-opacity="1.00" stroke-width="1.3"/><line x1="923.3" y1="1101.7" x2="923.3" y2="1108.9" stroke="#a00a12" stroke-opacity="0.42" stroke-width="1.3"/><line x1="926.4" y1="1101.7" x2="926.4" y2="1108.9" stroke="#a00a12" stroke-opacity="0.51" stroke-width="1.3"/><line x1="931.5" y1="1101.7" x2="931.5" y2="1108.9" stroke="#a00a12" stroke-opacity="0.72" stroke-width="1.3"/><line x1="937.2" y1="1101.7" x2="937.2" y2="1108.9" stroke="#a00a12" stroke-opacity="1.00" stroke-width="1.3"/><line x1="938.4" y1="1101.7" x2="938.4" y2="1108.9" stroke="#a00a12" stroke-opacity="1.00" stroke-width="1.3"/><line x1="939.6" y1="1101.7" x2="939.6" y2="1108.9" stroke="#a00a12" stroke-opacity="1.00" stroke-width="1.3"/><line x1="940.8" y1="1101.7" x2="940.8" y2="1108.9" stroke="#a00a12" stroke-opacity="1.00" stroke-width="1.3"/><line x1="947.5" y1="1101.7" x2="947.5" y2="1108.9" stroke="#a00a12" stroke-opacity="0.42" stroke-width="1.3"/><line x1="953.6" y1="1101.7" x2="953.6" y2="1108.9" stroke="#a00a12" stroke-opacity="1.00" stroke-width="1.3"/><line x1="959.3" y1="1101.7" x2="959.3" y2="1108.9" stroke="#a00a12" stroke-opacity="0.58" stroke-width="1.3"/><line x1="962.3" y1="1101.7" x2="962.3" y2="1108.9" stroke="#a00a12" stroke-opacity="1.00" stroke-width="1.3"/><line x1="963.3" y1="1101.7" x2="963.3" y2="1108.9" stroke="#a00a12" stroke-opacity="1.00" stroke-width="1.3"/><line x1="964.4" y1="1101.7" x2="964.4" y2="1108.9" stroke="#a00a12" stroke-opacity="1.00" stroke-width="1.3"/><line x1="965.4" y1="1101.7" x2="965.4" y2="1108.9" stroke="#a00a12" stroke-opacity="1.00" stroke-width="1.3"/><line x1="969.5" y1="1101.7" x2="969.5" y2="1108.9" stroke="#a00a12" stroke-opacity="0.58" stroke-width="1.3"/><line x1="974.1" y1="1101.7" x2="974.1" y2="1108.9" stroke="#a00a12" stroke-opacity="1.00" stroke-width="1.3"/><line x1="978.8" y1="1101.7" x2="978.8" y2="1108.9" stroke="#a00a12" stroke-opacity="0.58" stroke-width="1.3"/><line x1="983.9" y1="1101.7" x2="983.9" y2="1108.9" stroke="#a00a12" stroke-opacity="0.72" stroke-width="1.3"/><line x1="996.2" y1="1101.7" x2="996.2" y2="1108.9" stroke="#a00a12" stroke-opacity="1.00" stroke-width="1.3"/><line x1="997.3" y1="1101.7" x2="997.3" y2="1108.9" stroke="#a00a12" stroke-opacity="1.00" stroke-width="1.3"/><line x1="998.4" y1="1101.7" x2="998.4" y2="1108.9" stroke="#a00a12" stroke-opacity="1.00" stroke-width="1.3"/><line x1="999.5" y1="1101.7" x2="999.5" y2="1108.9" stroke="#a00a12" stroke-opacity="1.00" stroke-width="1.3"/><line x1="1000.7" y1="1101.7" x2="1000.7" y2="1108.9" stroke="#a00a12" stroke-opacity="1.00" stroke-width="1.3"/><line x1="1001.8" y1="1101.7" x2="1001.8" y2="1108.9" stroke="#a00a12" stroke-opacity="1.00" stroke-width="1.3"/><line x1="1002.9" y1="1101.7" x2="1002.9" y2="1108.9" stroke="#a00a12" stroke-opacity="1.00" stroke-width="1.3"/><line x1="1014.7" y1="1101.7" x2="1014.7" y2="1108.9" stroke="#a00a12" stroke-opacity="0.80" stroke-width="1.3"/><line x1="1035.2" y1="1101.7" x2="1035.2" y2="1108.9" stroke="#a00a12" stroke-opacity="0.42" stroke-width="1.3"/><line x1="1039.3" y1="1101.7" x2="1039.3" y2="1108.9" stroke="#a00a12" stroke-opacity="0.42" stroke-width="1.3"/><line x1="1043.4" y1="1101.7" x2="1043.4" y2="1108.9" stroke="#a00a12" stroke-opacity="0.43" stroke-width="1.3"/><line x1="1049.6" y1="1101.7" x2="1049.6" y2="1108.9" stroke="#a00a12" stroke-opacity="0.43" stroke-width="1.3"/><line x1="1054.7" y1="1101.7" x2="1054.7" y2="1108.9" stroke="#a00a12" stroke-opacity="0.43" stroke-width="1.3"/><line x1="1060.8" y1="1101.7" x2="1060.8" y2="1108.9" stroke="#a00a12" stroke-opacity="0.51" stroke-width="1.3"/><line x1="1071.1" y1="1101.7" x2="1071.1" y2="1108.9" stroke="#a00a12" stroke-opacity="0.51" stroke-width="1.3"/><line x1="1096.8" y1="1101.7" x2="1096.8" y2="1108.9" stroke="#a00a12" stroke-opacity="0.42" stroke-width="1.3"/><line x1="1101.9" y1="1101.7" x2="1101.9" y2="1108.9" stroke="#a00a12" stroke-opacity="0.58" stroke-width="1.3"/><line x1="1107.0" y1="1101.7" x2="1107.0" y2="1108.9" stroke="#a00a12" stroke-opacity="0.42" stroke-width="1.3"/><line x1="1110.3" y1="1101.7" x2="1110.3" y2="1108.9" stroke="#a00a12" stroke-opacity="0.42" stroke-width="1.3"/><line x1="1157.0" y1="1101.7" x2="1157.0" y2="1108.9" stroke="#a00a12" stroke-opacity="0.42" stroke-width="1.3"/><line x1="1165.7" y1="1101.7" x2="1165.7" y2="1108.9" stroke="#a00a12" stroke-opacity="0.42" stroke-width="1.3"/><line x1="1172.9" y1="1101.7" x2="1172.9" y2="1108.9" stroke="#a00a12" stroke-opacity="0.80" stroke-width="1.3"/><line x1="1181.6" y1="1101.7" x2="1181.6" y2="1108.9" stroke="#a00a12" stroke-opacity="0.42" stroke-width="1.3"/><line x1="1195.9" y1="1101.7" x2="1195.9" y2="1108.9" stroke="#a00a12" stroke-opacity="0.43" stroke-width="1.3"/><line x1="1205.2" y1="1101.7" x2="1205.2" y2="1108.9" stroke="#a00a12" stroke-opacity="0.65" stroke-width="1.3"/><line x1="1206.7" y1="1101.7" x2="1206.7" y2="1108.9" stroke="#a00a12" stroke-opacity="0.65" stroke-width="1.3"/><line x1="1208.2" y1="1101.7" x2="1208.2" y2="1108.9" stroke="#a00a12" stroke-opacity="0.65" stroke-width="1.3"/><line x1="1209.8" y1="1101.7" x2="1209.8" y2="1108.9" stroke="#a00a12" stroke-opacity="0.65" stroke-width="1.3"/><line x1="1211.3" y1="1101.7" x2="1211.3" y2="1108.9" stroke="#a00a12" stroke-opacity="0.65" stroke-width="1.3"/><line x1="1221.1" y1="1101.7" x2="1221.1" y2="1108.9" stroke="#a00a12" stroke-opacity="0.43" stroke-width="1.3"/><line x1="1225.2" y1="1101.7" x2="1225.2" y2="1108.9" stroke="#a00a12" stroke-opacity="0.43" stroke-width="1.3"/><line x1="1229.8" y1="1101.7" x2="1229.8" y2="1108.9" stroke="#a00a12" stroke-opacity="0.43" stroke-width="1.3"/><line x1="1247.3" y1="1101.7" x2="1247.3" y2="1108.9" stroke="#a00a12" stroke-opacity="0.51" stroke-width="1.3"/><line x1="1251.4" y1="1101.7" x2="1251.4" y2="1108.9" stroke="#a00a12" stroke-opacity="0.51" stroke-width="1.3"/><line x1="1256.0" y1="1101.7" x2="1256.0" y2="1108.9" stroke="#a00a12" stroke-opacity="0.43" stroke-width="1.3"/><line x1="1262.1" y1="1101.7" x2="1262.1" y2="1108.9" stroke="#a00a12" stroke-opacity="0.43" stroke-width="1.3"/><line x1="1265.2" y1="1101.7" x2="1265.2" y2="1108.9" stroke="#a00a12" stroke-opacity="0.42" stroke-width="1.3"/><line x1="1279.6" y1="1101.7" x2="1279.6" y2="1108.9" stroke="#a00a12" stroke-opacity="0.42" stroke-width="1.3"/><line x1="1284.7" y1="1101.7" x2="1284.7" y2="1108.9" stroke="#a00a12" stroke-opacity="0.42" stroke-width="1.3"/><path d="M731.8,1057.3 Q1072.8,969.2 1280.7,649.2" fill="none" stroke="#000" stroke-width="2.2"/><path d="M1282.3,646.7 L1281.3,655.6 L1274.6,651.2 Z" fill="#000"/><polyline points="731.7,1057.0 755.7,1057.0 766.2,1019.4 776.6,1018.4 789.0,1018.8 800.0,1003.4 811.7,1063.7 822.8,1029.3 827.1,1029.3 833.3,1031.1 845.0,1026.8 856.7,1046.5 867.8,1044.6 878.8,1046.5 889.9,1073.0 901.6,1066.8 912.1,1052.7 923.2,1043.4 936.1,1046.5 946.6,1045.9 957.4,1051.7 968.5,1076.3 990.6,1083.1 1014.0,1059.1 1025.1,1059.1 1036.2,1062.8 1047.3,1061.6 1063.3,1064.0 1097.8,1064.6 1122.4,1063.4 1159.3,1063.4 1171.6,1042.2 1184.2,1033.3 1195.0,1035.5 1214.6,1041.7 1228.2,1042.5 1240.0,1055.4 1251.7,1057.4 1272.8,638.7 1286.4,641.8" class="pdp"/><line x1="704.80" y1="615.45" x2="704.80" y2="1130.15" stroke="#a0a0a0" stroke-width="1.7"/><line x1="1313.10" y1="615.45" x2="1313.10" y2="1130.15" stroke="#4a4a4a" stroke-width="1.7"/><line x1="703.95" y1="616.30" x2="1313.95" y2="616.30" stroke="#787072" stroke-width="1.7"/><line x1="703.95" y1="1129.30" x2="1313.95" y2="1129.30" stroke="#5a5358" stroke-width="1.7"/><line x1="800.8" y1="1129.3" x2="800.8" y2="1134.5" class="tick"/><text transform="translate(800.8,1150.5) scale(1,1.03)" class="tl" text-anchor="middle">0.2</text><line x1="922.5" y1="1129.3" x2="922.5" y2="1134.5" class="tick"/><text transform="translate(922.5,1150.5) scale(1,1.03)" class="tl" text-anchor="middle">0.4</text><line x1="1044.2" y1="1129.3" x2="1044.2" y2="1134.5" class="tick"/><text transform="translate(1044.2,1150.5) scale(1,1.03)" class="tl" text-anchor="middle">0.6</text><line x1="1166.0" y1="1129.3" x2="1166.0" y2="1134.5" class="tick"/><text transform="translate(1166.0,1150.5) scale(1,1.03)" class="tl" text-anchor="middle">0.8</text><line x1="1287.7" y1="1129.3" x2="1287.7" y2="1134.5" class="tick"/><text transform="translate(1287.7,1150.5) scale(1,1.03)" class="tl" text-anchor="middle">1.0</text><line x1="699.4" y1="632.1" x2="704.8" y2="632.1" class="tick" style="stroke:#252525"/><line x1="699.4" y1="690.6" x2="704.8" y2="690.6" class="tick" style="stroke:#252525"/><line x1="699.4" y1="749.1" x2="704.8" y2="749.1" class="tick" style="stroke:#252525"/><line x1="699.4" y1="807.7" x2="704.8" y2="807.7" class="tick" style="stroke:#252525"/><line x1="699.4" y1="866.2" x2="704.8" y2="866.2" class="tick" style="stroke:#252525"/><line x1="699.4" y1="924.7" x2="704.8" y2="924.7" class="tick" style="stroke:#252525"/><line x1="699.4" y1="983.2" x2="704.8" y2="983.2" class="tick" style="stroke:#252525"/><line x1="699.4" y1="1041.7" x2="704.8" y2="1041.7" class="tick" style="stroke:#252525"/><line x1="699.4" y1="1100.3" x2="704.8" y2="1100.3" class="tick" style="stroke:#252525"/><text x="1008.8" y="606.4" class="title" text-anchor="middle" textLength="102.2" lengthAdjust="spacingAndGlyphs">PDP for NIR</text><text x="1008.8" y="1170.3" class="xl" text-anchor="middle">NIR</text></g><g><line x1="1463.3" y1="616.0" x2="1463.3" y2="1129.0" class="grid"/><line x1="1596.1" y1="616.0" x2="1596.1" y2="1129.0" class="grid"/><line x1="1728.8" y1="616.0" x2="1728.8" y2="1129.0" class="grid"/><line x1="1861.6" y1="616.0" x2="1861.6" y2="1129.0" class="grid"/><line x1="1336.5" y1="617.2" x2="1943.4" y2="617.2" class="grid"/><line x1="1336.5" y1="687.3" x2="1943.4" y2="687.3" class="grid"/><line x1="1336.5" y1="757.4" x2="1943.4" y2="757.4" class="grid"/><line x1="1336.5" y1="827.6" x2="1943.4" y2="827.6" class="grid"/><line x1="1336.5" y1="897.7" x2="1943.4" y2="897.7" class="grid"/><line x1="1336.5" y1="967.8" x2="1943.4" y2="967.8" class="grid"/><line x1="1336.5" y1="1037.9" x2="1943.4" y2="1037.9" class="grid"/><line x1="1336.5" y1="1108.0" x2="1943.4" y2="1108.0" class="grid"/><line x1="1336.5" y1="985.6" x2="1943.4" y2="985.6" class="dash"/><line x1="1363.2" y1="1101.3" x2="1363.2" y2="1109.0" stroke="#a00a12" stroke-opacity="0.51" stroke-width="1.3"/><line x1="1366.5" y1="1101.3" x2="1366.5" y2="1109.0" stroke="#a00a12" stroke-opacity="0.51" stroke-width="1.3"/><line x1="1369.5" y1="1101.3" x2="1369.5" y2="1109.0" stroke="#a00a12" stroke-opacity="0.51" stroke-width="1.3"/><line x1="1373.5" y1="1101.3" x2="1373.5" y2="1109.0" stroke="#a00a12" stroke-opacity="0.58" stroke-width="1.3"/><line x1="1377.6" y1="1101.3" x2="1377.6" y2="1109.0" stroke="#a00a12" stroke-opacity="0.72" stroke-width="1.3"/><line x1="1380.7" y1="1101.3" x2="1380.7" y2="1109.0" stroke="#a00a12" stroke-opacity="0.72" stroke-width="1.3"/><line x1="1385.8" y1="1101.3" x2="1385.8" y2="1109.0" stroke="#a00a12" stroke-opacity="1.00" stroke-width="1.3"/><line x1="1388.0" y1="1101.3" x2="1388.0" y2="1109.0" stroke="#a00a12" stroke-opacity="0.87" stroke-width="1.3"/><line x1="1390.9" y1="1101.3" x2="1390.9" y2="1109.0" stroke="#a00a12" stroke-opacity="1.00" stroke-width="1.3"/><line x1="1395.5" y1="1101.3" x2="1395.5" y2="1109.0" stroke="#a00a12" stroke-opacity="0.65" stroke-width="1.3"/><line x1="1397.1" y1="1101.3" x2="1397.1" y2="1109.0" stroke="#a00a12" stroke-opacity="0.65" stroke-width="1.3"/><line x1="1398.8" y1="1101.3" x2="1398.8" y2="1109.0" stroke="#a00a12" stroke-opacity="0.65" stroke-width="1.3"/><line x1="1400.4" y1="1101.3" x2="1400.4" y2="1109.0" stroke="#a00a12" stroke-opacity="0.65" stroke-width="1.3"/><line x1="1402.0" y1="1101.3" x2="1402.0" y2="1109.0" stroke="#a00a12" stroke-opacity="0.65" stroke-width="1.3"/><line x1="1403.7" y1="1101.3" x2="1403.7" y2="1109.0" stroke="#a00a12" stroke-opacity="0.65" stroke-width="1.3"/><line x1="1405.3" y1="1101.3" x2="1405.3" y2="1109.0" stroke="#a00a12" stroke-opacity="0.65" stroke-width="1.3"/><line x1="1408.4" y1="1101.3" x2="1408.4" y2="1109.0" stroke="#a00a12" stroke-opacity="0.43" stroke-width="1.3"/><line x1="1412.5" y1="1101.3" x2="1412.5" y2="1109.0" stroke="#a00a12" stroke-opacity="0.43" stroke-width="1.3"/><line x1="1415.5" y1="1101.3" x2="1415.5" y2="1109.0" stroke="#a00a12" stroke-opacity="0.43" stroke-width="1.3"/><line x1="1421.7" y1="1101.3" x2="1421.7" y2="1109.0" stroke="#a00a12" stroke-opacity="0.43" stroke-width="1.3"/><line x1="1425.8" y1="1101.3" x2="1425.8" y2="1109.0" stroke="#a00a12" stroke-opacity="0.43" stroke-width="1.3"/><line x1="1430.9" y1="1101.3" x2="1430.9" y2="1109.0" stroke="#a00a12" stroke-opacity="0.42" stroke-width="1.3"/><line x1="1434.0" y1="1101.3" x2="1434.0" y2="1109.0" stroke="#a00a12" stroke-opacity="0.43" stroke-width="1.3"/><line x1="1437.1" y1="1101.3" x2="1437.1" y2="1109.0" stroke="#a00a12" stroke-opacity="1.00" stroke-width="1.3"/><line x1="1439.2" y1="1101.3" x2="1439.2" y2="1109.0" stroke="#a00a12" stroke-opacity="1.00" stroke-width="1.3"/><line x1="1441.2" y1="1101.3" x2="1441.2" y2="1109.0" stroke="#a00a12" stroke-opacity="1.00" stroke-width="1.3"/><line x1="1444.3" y1="1101.3" x2="1444.3" y2="1109.0" stroke="#a00a12" stroke-opacity="0.58" stroke-width="1.3"/><line x1="1445.7" y1="1101.3" x2="1445.7" y2="1109.0" stroke="#a00a12" stroke-opacity="0.58" stroke-width="1.3"/><line x1="1447.2" y1="1101.3" x2="1447.2" y2="1109.0" stroke="#a00a12" stroke-opacity="0.58" stroke-width="1.3"/><line x1="1448.6" y1="1101.3" x2="1448.6" y2="1109.0" stroke="#a00a12" stroke-opacity="0.58" stroke-width="1.3"/><line x1="1450.1" y1="1101.3" x2="1450.1" y2="1109.0" stroke="#a00a12" stroke-opacity="0.58" stroke-width="1.3"/><line x1="1451.5" y1="1101.3" x2="1451.5" y2="1109.0" stroke="#a00a12" stroke-opacity="0.58" stroke-width="1.3"/><line x1="1457.6" y1="1101.3" x2="1457.6" y2="1109.0" stroke="#a00a12" stroke-opacity="0.43" stroke-width="1.3"/><line x1="1463.8" y1="1101.3" x2="1463.8" y2="1109.0" stroke="#a00a12" stroke-opacity="0.42" stroke-width="1.3"/><line x1="1465.3" y1="1101.3" x2="1465.3" y2="1109.0" stroke="#a00a12" stroke-opacity="0.42" stroke-width="1.3"/><line x1="1466.8" y1="1101.3" x2="1466.8" y2="1109.0" stroke="#a00a12" stroke-opacity="0.42" stroke-width="1.3"/><line x1="1468.4" y1="1101.3" x2="1468.4" y2="1109.0" stroke="#a00a12" stroke-opacity="0.42" stroke-width="1.3"/><line x1="1469.9" y1="1101.3" x2="1469.9" y2="1109.0" stroke="#a00a12" stroke-opacity="0.42" stroke-width="1.3"/><line x1="1473.0" y1="1101.3" x2="1473.0" y2="1109.0" stroke="#a00a12" stroke-opacity="0.43" stroke-width="1.3"/><line x1="1478.1" y1="1101.3" x2="1478.1" y2="1109.0" stroke="#a00a12" stroke-opacity="0.43" stroke-width="1.3"/><line x1="1481.7" y1="1101.3" x2="1481.7" y2="1109.0" stroke="#a00a12" stroke-opacity="0.42" stroke-width="1.3"/><line x1="1493.5" y1="1101.3" x2="1493.5" y2="1109.0" stroke="#a00a12" stroke-opacity="0.72" stroke-width="1.3"/><line x1="1504.3" y1="1101.3" x2="1504.3" y2="1109.0" stroke="#a00a12" stroke-opacity="0.65" stroke-width="1.3"/><line x1="1521.2" y1="1101.3" x2="1521.2" y2="1109.0" stroke="#a00a12" stroke-opacity="0.72" stroke-width="1.3"/><line x1="1524.4" y1="1101.3" x2="1524.4" y2="1109.0" stroke="#a00a12" stroke-opacity="0.72" stroke-width="1.3"/><line x1="1532.0" y1="1101.3" x2="1532.0" y2="1109.0" stroke="#a00a12" stroke-opacity="0.87" stroke-width="1.3"/><line x1="1547.0" y1="1101.3" x2="1547.0" y2="1109.0" stroke="#a00a12" stroke-opacity="0.87" stroke-width="1.3"/><line x1="1555.2" y1="1101.3" x2="1555.2" y2="1109.0" stroke="#a00a12" stroke-opacity="0.87" stroke-width="1.3"/><line x1="1559.0" y1="1101.3" x2="1559.0" y2="1109.0" stroke="#a00a12" stroke-opacity="0.87" stroke-width="1.3"/><line x1="1563.4" y1="1101.3" x2="1563.4" y2="1109.0" stroke="#a00a12" stroke-opacity="1.00" stroke-width="1.3"/><line x1="1575.8" y1="1101.3" x2="1575.8" y2="1109.0" stroke="#a00a12" stroke-opacity="0.42" stroke-width="1.3"/><line x1="1577.4" y1="1101.3" x2="1577.4" y2="1109.0" stroke="#a00a12" stroke-opacity="0.42" stroke-width="1.3"/><line x1="1579.0" y1="1101.3" x2="1579.0" y2="1109.0" stroke="#a00a12" stroke-opacity="0.42" stroke-width="1.3"/><line x1="1580.5" y1="1101.3" x2="1580.5" y2="1109.0" stroke="#a00a12" stroke-opacity="0.42" stroke-width="1.3"/><line x1="1582.1" y1="1101.3" x2="1582.1" y2="1109.0" stroke="#a00a12" stroke-opacity="0.42" stroke-width="1.3"/><line x1="1583.7" y1="1101.3" x2="1583.7" y2="1109.0" stroke="#a00a12" stroke-opacity="0.42" stroke-width="1.3"/><line x1="1585.3" y1="1101.3" x2="1585.3" y2="1109.0" stroke="#a00a12" stroke-opacity="0.42" stroke-width="1.3"/><line x1="1586.8" y1="1101.3" x2="1586.8" y2="1109.0" stroke="#a00a12" stroke-opacity="0.42" stroke-width="1.3"/><line x1="1588.4" y1="1101.3" x2="1588.4" y2="1109.0" stroke="#a00a12" stroke-opacity="0.42" stroke-width="1.3"/><line x1="1590.0" y1="1101.3" x2="1590.0" y2="1109.0" stroke="#a00a12" stroke-opacity="0.42" stroke-width="1.3"/><line x1="1591.6" y1="1101.3" x2="1591.6" y2="1109.0" stroke="#a00a12" stroke-opacity="0.42" stroke-width="1.3"/><line x1="1593.1" y1="1101.3" x2="1593.1" y2="1109.0" stroke="#a00a12" stroke-opacity="0.42" stroke-width="1.3"/><line x1="1594.7" y1="1101.3" x2="1594.7" y2="1109.0" stroke="#a00a12" stroke-opacity="0.42" stroke-width="1.3"/><line x1="1596.3" y1="1101.3" x2="1596.3" y2="1109.0" stroke="#a00a12" stroke-opacity="0.42" stroke-width="1.3"/><line x1="1598.3" y1="1101.3" x2="1598.3" y2="1109.0" stroke="#a00a12" stroke-opacity="0.65" stroke-width="1.3"/><line x1="1599.8" y1="1101.3" x2="1599.8" y2="1109.0" stroke="#a00a12" stroke-opacity="0.65" stroke-width="1.3"/><line x1="1601.4" y1="1101.3" x2="1601.4" y2="1109.0" stroke="#a00a12" stroke-opacity="0.65" stroke-width="1.3"/><line x1="1602.9" y1="1101.3" x2="1602.9" y2="1109.0" stroke="#a00a12" stroke-opacity="0.65" stroke-width="1.3"/><line x1="1604.5" y1="1101.3" x2="1604.5" y2="1109.0" stroke="#a00a12" stroke-opacity="0.65" stroke-width="1.3"/><line x1="1606.0" y1="1101.3" x2="1606.0" y2="1109.0" stroke="#a00a12" stroke-opacity="0.65" stroke-width="1.3"/><line x1="1607.5" y1="1101.3" x2="1607.5" y2="1109.0" stroke="#a00a12" stroke-opacity="0.65" stroke-width="1.3"/><line x1="1609.1" y1="1101.3" x2="1609.1" y2="1109.0" stroke="#a00a12" stroke-opacity="0.65" stroke-width="1.3"/><line x1="1610.6" y1="1101.3" x2="1610.6" y2="1109.0" stroke="#a00a12" stroke-opacity="0.65" stroke-width="1.3"/><line x1="1612.2" y1="1101.3" x2="1612.2" y2="1109.0" stroke="#a00a12" stroke-opacity="0.65" stroke-width="1.3"/><line x1="1613.7" y1="1101.3" x2="1613.7" y2="1109.0" stroke="#a00a12" stroke-opacity="0.65" stroke-width="1.3"/><line x1="1615.3" y1="1101.3" x2="1615.3" y2="1109.0" stroke="#a00a12" stroke-opacity="0.65" stroke-width="1.3"/><line x1="1616.8" y1="1101.3" x2="1616.8" y2="1109.0" stroke="#a00a12" stroke-opacity="0.65" stroke-width="1.3"/><line x1="1627.1" y1="1101.3" x2="1627.1" y2="1109.0" stroke="#a00a12" stroke-opacity="1.00" stroke-width="1.3"/><line x1="1645.5" y1="1101.3" x2="1645.5" y2="1109.0" stroke="#a00a12" stroke-opacity="0.42" stroke-width="1.3"/><line x1="1648.1" y1="1101.3" x2="1648.1" y2="1109.0" stroke="#a00a12" stroke-opacity="0.42" stroke-width="1.3"/><line x1="1650.8" y1="1101.3" x2="1650.8" y2="1109.0" stroke="#a00a12" stroke-opacity="0.42" stroke-width="1.3"/><line x1="1653.4" y1="1101.3" x2="1653.4" y2="1109.0" stroke="#a00a12" stroke-opacity="0.42" stroke-width="1.3"/><line x1="1656.1" y1="1101.3" x2="1656.1" y2="1109.0" stroke="#a00a12" stroke-opacity="0.42" stroke-width="1.3"/><line x1="1658.7" y1="1101.3" x2="1658.7" y2="1109.0" stroke="#a00a12" stroke-opacity="0.42" stroke-width="1.3"/><line x1="1661.4" y1="1101.3" x2="1661.4" y2="1109.0" stroke="#a00a12" stroke-opacity="0.42" stroke-width="1.3"/><line x1="1664.0" y1="1101.3" x2="1664.0" y2="1109.0" stroke="#a00a12" stroke-opacity="0.42" stroke-width="1.3"/><line x1="1682.5" y1="1101.3" x2="1682.5" y2="1109.0" stroke="#a00a12" stroke-opacity="0.43" stroke-width="1.3"/><line x1="1688.6" y1="1101.3" x2="1688.6" y2="1109.0" stroke="#a00a12" stroke-opacity="0.51" stroke-width="1.3"/><line x1="1692.7" y1="1101.3" x2="1692.7" y2="1109.0" stroke="#a00a12" stroke-opacity="0.51" stroke-width="1.3"/><line x1="1709.2" y1="1101.3" x2="1709.2" y2="1109.0" stroke="#a00a12" stroke-opacity="0.43" stroke-width="1.3"/><line x1="1713.3" y1="1101.3" x2="1713.3" y2="1109.0" stroke="#a00a12" stroke-opacity="0.43" stroke-width="1.3"/><line x1="1717.4" y1="1101.3" x2="1717.4" y2="1109.0" stroke="#a00a12" stroke-opacity="0.43" stroke-width="1.3"/><line x1="1721.5" y1="1101.3" x2="1721.5" y2="1109.0" stroke="#a00a12" stroke-opacity="0.43" stroke-width="1.3"/><line x1="1725.6" y1="1101.3" x2="1725.6" y2="1109.0" stroke="#a00a12" stroke-opacity="0.43" stroke-width="1.3"/><line x1="1729.7" y1="1101.3" x2="1729.7" y2="1109.0" stroke="#a00a12" stroke-opacity="0.42" stroke-width="1.3"/><line x1="1745.1" y1="1101.3" x2="1745.1" y2="1109.0" stroke="#a00a12" stroke-opacity="0.42" stroke-width="1.3"/><line x1="1815.4" y1="1101.3" x2="1815.4" y2="1109.0" stroke="#a00a12" stroke-opacity="0.43" stroke-width="1.3"/><line x1="1822.1" y1="1101.3" x2="1822.1" y2="1109.0" stroke="#a00a12" stroke-opacity="0.51" stroke-width="1.3"/><line x1="1841.6" y1="1101.3" x2="1841.6" y2="1109.0" stroke="#a00a12" stroke-opacity="0.43" stroke-width="1.3"/><line x1="1857.0" y1="1101.3" x2="1857.0" y2="1109.0" stroke="#a00a12" stroke-opacity="0.80" stroke-width="1.3"/><line x1="1865.2" y1="1101.3" x2="1865.2" y2="1109.0" stroke="#a00a12" stroke-opacity="0.43" stroke-width="1.3"/><line x1="1873.4" y1="1101.3" x2="1873.4" y2="1109.0" stroke="#a00a12" stroke-opacity="0.43" stroke-width="1.3"/><line x1="1905.7" y1="1101.3" x2="1905.7" y2="1109.0" stroke="#a00a12" stroke-opacity="0.43" stroke-width="1.3"/><line x1="1915.5" y1="1101.3" x2="1915.5" y2="1109.0" stroke="#a00a12" stroke-opacity="0.43" stroke-width="1.3"/><path d="M1364.0,1083.0 Q1649.9,1151.1 1909.4,1005.5" fill="none" stroke="#000" stroke-width="2.2"/><path d="M1912.0,1004.0 L1907.0,1011.4 L1903.1,1004.4 Z" fill="#000"/><polyline points="1364.3,1083.3 1376.5,1075.1 1387.6,1072.2 1397.4,638.6 1409.3,715.2 1419.8,854.5 1431.2,871.2 1442.6,854.5 1453.6,1052.5 1465.2,1065.3 1475.7,1027.9 1488.4,1032.1 1500.3,1007.5 1509.7,988.8 1521.6,989.6 1531.8,987.1 1555.6,985.7 1566.6,943.7 1578.0,952.8 1588.7,917.7 1600.6,920.8 1611.7,1022.8 1623.6,1050.8 1634.6,1032.1 1645.7,1059.8 1656.7,965.8 1667.5,964.1 1679.4,967.3 1690.2,998.2 1701.7,994.6 1713.2,978.8 1723.9,1010.4 1735.4,1021.6 1859.7,1021.6 1870.5,969.4 1882.0,971.9 1892.7,996.7 1904.2,996.7 1917.2,1001.1" class="pdp"/><line x1="1336.60" y1="615.35" x2="1336.60" y2="1130.25" stroke="#262626" stroke-width="1.7"/><line x1="1943.60" y1="615.35" x2="1943.60" y2="1130.25" stroke="#333" stroke-width="1.7"/><line x1="1335.75" y1="616.20" x2="1944.45" y2="616.20" stroke="#787276" stroke-width="1.7"/><line x1="1335.75" y1="1129.40" x2="1944.45" y2="1129.40" stroke="#575057" stroke-width="1.7"/><line x1="1463.3" y1="1129.4" x2="1463.3" y2="1134.6" class="tick"/><text transform="translate(1463.3,1150.5) scale(1,1.03)" class="tl" text-anchor="middle">0.2</text><line x1="1596.1" y1="1129.4" x2="1596.1" y2="1134.6" class="tick"/><text transform="translate(1596.1,1150.5) scale(1,1.03)" class="tl" text-anchor="middle">0.4</text><line x1="1728.8" y1="1129.4" x2="1728.8" y2="1134.6" class="tick"/><text transform="translate(1728.8,1150.5) scale(1,1.03)" class="tl" text-anchor="middle">0.6</text><line x1="1861.6" y1="1129.4" x2="1861.6" y2="1134.6" class="tick"/><text transform="translate(1861.6,1150.5) scale(1,1.03)" class="tl" text-anchor="middle">0.8</text><line x1="1331.2" y1="617.2" x2="1336.6" y2="617.2" class="tick" style="stroke:#444"/><line x1="1331.2" y1="687.3" x2="1336.6" y2="687.3" class="tick" style="stroke:#444"/><line x1="1331.2" y1="757.4" x2="1336.6" y2="757.4" class="tick" style="stroke:#444"/><line x1="1331.2" y1="827.6" x2="1336.6" y2="827.6" class="tick" style="stroke:#444"/><line x1="1331.2" y1="897.7" x2="1336.6" y2="897.7" class="tick" style="stroke:#444"/><line x1="1331.2" y1="967.8" x2="1336.6" y2="967.8" class="tick" style="stroke:#444"/><line x1="1331.2" y1="1037.9" x2="1336.6" y2="1037.9" class="tick" style="stroke:#444"/><line x1="1331.2" y1="1108.0" x2="1336.6" y2="1108.0" class="tick" style="stroke:#444"/><text x="1640.0" y="606.4" class="title" text-anchor="middle" textLength="101.1" lengthAdjust="spacingAndGlyphs">PDP for DVI</text><text x="1640.0" y="1170.3" class="xl" text-anchor="middle">DVI</text></g></g></svg></body></html>
